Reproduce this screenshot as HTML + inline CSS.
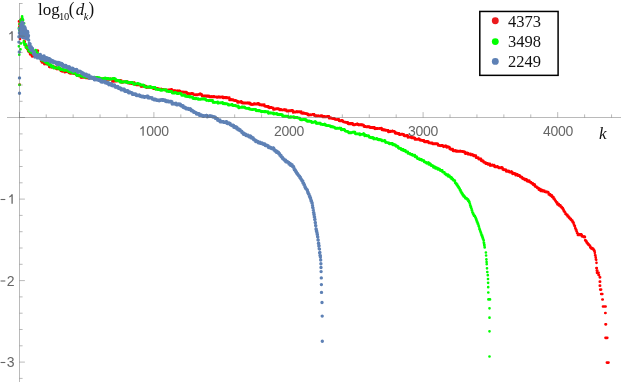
<!DOCTYPE html>
<html><head><meta charset="utf-8"><title>plot</title>
<style>
html,body{margin:0;padding:0;background:#fff;}
body{width:621px;height:382px;position:relative;overflow:hidden;font-family:"Liberation Sans",sans-serif;}
.t{position:absolute;white-space:nowrap;line-height:1;will-change:transform;}
.xl{font-size:14px;letter-spacing:-0.27px;color:#666;width:60px;text-align:center;top:123.9px;}
.yl{font-size:14px;color:#666;width:14.5px;text-align:right;left:0;}
.one{display:inline-block;vertical-align:baseline;position:relative;top:0.1px;margin-right:-0.27px}
.yl .one{margin-right:-0.5px}
.s{font-family:"Liberation Serif",serif;color:#111;}
</style></head><body>
<svg width="621" height="382" viewBox="0 0 621 382" style="position:absolute;left:0;top:0">
<g fill="none" stroke-linecap="round">
<path stroke="#ff0000" stroke-width="2.7" d="M19.4 24.3h0M19.6 28.7h0M19.7 27.3h0M19.8 27.7h0M20.0 26.3h0M20.1 27.0h0M20.2 26.5h0M20.4 27.7h0M20.5 24.2h0M20.6 22.8h0M20.8 25.4h0M20.9 24.2h0M21.0 22.8h0M21.2 20.9h0M21.3 24.7h0M21.5 18.8h0M21.6 22.8h0M21.7 22.7h0M21.9 20.9h0M22.0 21.2h0M22.1 23.8h0M22.3 21.5h0M22.4 24.6h0M22.5 22.9h0M22.7 27.1h0M22.8 29.5h0M23.1 28.9h0M23.3 32.9h0M23.6 37.5h0M23.9 37.6h0M24.1 40.9h0M24.4 41.2h0M24.7 41.6h0M25.0 43.8h0M25.2 44.6h0M25.5 45.4h0M25.8 46.3h0M26.0 47.4h0M26.3 47.2h0M26.6 46.0h0M26.8 46.7h0M27.1 46.9h0M27.4 49.2h0M27.6 49.1h0M27.9 49.0h0M28.2 51.3h0M28.5 51.2h0M28.7 51.6h0M29.0 51.8h0M29.3 52.2h0M29.5 52.0h0M29.8 52.1h0M30.1 54.3h0M30.3 54.2h0M30.6 54.1h0M30.9 53.2h0M31.1 54.2h0M31.4 54.5h0M31.7 54.0h0M32.0 56.3h0M32.2 55.4h0M32.5 56.5h0M32.8 55.9h0M33.0 55.9h0M33.3 55.7h0M33.6 55.8h0M33.8 55.9h0M34.1 53.7h0M34.4 53.4h0M34.6 53.8h0M34.9 54.5h0M35.2 54.0h0M35.5 54.3h0M35.7 53.9h0M36.0 52.6h0M36.3 52.6h0M36.5 52.2h0M36.8 51.4h0M37.1 51.3h0M37.3 51.3h0M37.6 50.6h0M37.9 50.8h0M38.1 54.8h0M38.4 54.8h0M38.7 54.0h0M39.0 54.4h0M39.2 54.4h0M39.5 56.1h0M39.8 55.9h0M40.0 56.9h0M40.3 56.5h0M40.6 58.5h0M40.8 58.0h0M41.1 61.0h0M41.4 60.8h0M41.6 61.2h0M41.9 62.3h0M42.2 61.3h0M42.5 61.8h0M42.7 62.0h0M43.0 61.9h0M43.3 62.5h0M43.5 61.9h0M43.8 62.5h0M44.1 62.2h0M44.3 64.1h0M44.6 63.1h0M44.9 63.2h0M45.1 63.3h0M45.4 64.0h0M45.7 63.0h0M46.0 63.3h0M46.2 63.8h0M46.5 64.1h0M46.8 63.7h0M47.0 64.0h0M47.3 64.3h0M47.6 64.4h0M47.8 64.4h0M48.1 64.5h0M48.4 64.0h0M48.6 64.0h0M48.9 63.8h0M49.2 66.8h0M49.5 66.3h0M49.7 66.3h0M50.0 67.1h0M50.3 66.7h0M50.5 66.7h0M50.8 66.7h0M51.1 66.6h0M51.3 66.6h0M51.6 67.3h0M51.9 66.9h0M52.1 66.8h0M52.4 66.7h0M52.7 67.0h0M53.0 66.6h0M53.2 66.5h0M53.5 66.8h0M53.8 67.2h0M54.0 67.8h0M54.3 67.3h0M54.6 67.8h0M54.8 67.2h0M55.1 67.2h0M55.4 67.5h0M55.6 67.6h0M55.9 67.9h0M56.2 67.7h0M56.4 68.8h0M56.7 68.2h0M57.0 69.1h0M57.3 68.5h0M57.5 69.0h0M57.8 68.2h0M58.1 69.0h0M58.3 68.4h0M58.6 69.0h0M58.9 69.0h0M59.1 68.9h0M59.4 68.5h0M59.7 68.3h0M59.9 68.5h0M60.2 69.2h0M60.5 68.5h0M60.8 70.8h0M61.0 70.8h0M61.3 70.9h0M61.6 70.5h0M61.8 70.5h0M62.1 70.5h0M62.4 71.4h0M62.6 70.8h0M62.9 71.1h0M63.2 71.0h0M63.4 70.7h0M63.7 70.5h0M64.0 70.4h0M64.3 71.1h0M64.5 70.4h0M64.8 72.2h0M65.1 71.6h0M65.3 71.9h0M65.6 71.3h0M65.9 71.9h0M66.1 71.4h0M66.4 71.5h0M66.7 71.6h0M66.9 71.2h0M67.2 71.4h0M67.5 71.8h0M67.8 71.4h0M68.0 71.5h0M68.3 71.8h0M68.6 71.3h0M68.8 71.3h0M69.1 72.9h0M69.4 73.1h0M69.6 73.1h0M69.9 73.3h0M70.2 73.1h0M70.4 73.4h0M70.7 72.8h0M71.0 73.3h0M71.3 73.4h0M71.5 72.9h0M71.8 72.7h0M72.1 73.0h0M72.3 72.7h0M72.6 73.0h0M72.9 73.2h0M73.1 72.7h0M73.4 73.4h0M73.7 73.7h0M73.9 73.5h0M74.2 73.5h0M74.5 73.7h0M74.8 73.4h0M75.0 73.4h0M75.3 73.7h0M75.6 73.8h0M75.8 74.3h0M76.1 74.0h0M76.4 73.7h0M76.6 73.9h0M76.9 74.3h0M77.2 75.3h0M77.4 75.6h0M77.7 75.7h0M78.0 75.7h0M78.3 75.2h0M78.5 75.9h0M78.8 75.6h0M79.1 75.4h0M79.3 75.4h0M79.6 76.0h0M79.9 75.5h0M80.1 75.4h0M80.4 75.5h0M80.7 76.0h0M80.9 77.4h0M81.2 77.6h0M81.5 77.1h0M81.8 77.3h0M82.0 77.2h0M82.3 77.1h0M82.6 77.4h0M82.8 77.1h0M83.1 76.9h0M83.4 77.4h0M83.6 77.0h0M83.9 76.7h0M84.2 76.5h0M84.4 76.9h0M84.7 76.7h0M85.0 76.3h0M85.3 76.6h0M85.5 76.8h0M85.8 77.9h0M86.1 77.7h0M86.3 77.8h0M86.6 77.9h0M86.9 77.9h0M87.1 77.6h0M87.4 78.0h0M87.7 78.1h0M87.9 78.0h0M88.2 78.1h0M88.5 77.8h0M88.8 78.2h0M89.0 77.8h0M89.3 77.8h0M89.6 78.1h0M89.8 78.3h0M90.1 77.7h0M90.4 77.7h0M90.6 77.5h0M90.9 77.8h0M91.2 77.6h0M91.4 77.7h0M91.7 78.1h0M92.0 78.0h0M92.3 78.2h0M92.5 77.9h0M92.8 78.1h0M93.1 77.6h0M93.3 78.2h0M93.6 77.8h0M93.9 77.9h0M94.1 78.0h0M94.4 78.3h0M94.7 78.0h0M94.9 78.3h0M95.2 78.1h0M95.5 77.9h0M95.8 78.3h0M96.0 77.9h0M96.3 78.4h0M96.6 78.1h0M96.8 77.9h0M97.1 78.5h0M97.4 78.1h0M97.6 79.2h0M97.9 79.2h0M98.2 79.4h0M98.4 79.0h0M98.7 79.2h0M99.0 79.1h0M99.3 79.5h0M99.5 79.0h0M99.8 79.4h0M100.1 79.1h0M100.3 79.3h0M100.6 79.3h0M100.9 79.4h0M101.1 79.0h0M101.4 79.0h0M101.7 78.9h0M101.9 79.4h0M102.2 78.9h0M102.5 78.8h0M102.8 79.1h0M103.0 79.1h0M103.3 79.3h0M103.6 79.1h0M103.8 79.2h0M104.1 79.1h0M104.4 79.4h0M104.6 79.3h0M104.9 79.3h0M105.2 79.6h0M105.4 79.5h0M105.7 79.6h0M106.0 79.6h0M106.3 79.2h0M106.5 79.6h0M106.8 79.3h0M107.1 79.0h0M107.3 79.5h0M107.6 79.0h0M107.9 78.9h0M108.1 79.1h0M108.4 79.0h0M108.7 79.4h0M108.9 79.3h0M109.2 79.1h0M109.5 79.1h0M109.8 79.3h0M110.0 79.3h0M110.3 79.2h0M110.6 79.1h0M110.8 78.9h0M111.1 79.0h0M111.4 79.3h0M111.6 79.3h0M111.9 79.4h0M112.2 79.5h0M112.4 81.3h0M112.7 80.9h0M113.0 80.8h0M113.3 81.3h0M113.5 81.2h0M113.8 81.0h0M114.1 81.3h0M114.3 81.0h0M114.6 81.0h0M114.9 81.1h0M115.1 81.2h0M115.4 81.2h0M115.7 80.9h0M115.9 81.2h0M116.2 81.2h0M116.5 81.0h0M116.8 81.1h0M117.0 81.2h0M117.3 80.7h0M117.6 80.9h0M117.8 81.0h0M118.1 81.0h0M118.4 80.9h0M118.6 80.6h0M118.9 81.0h0M119.2 80.9h0M119.4 80.6h0M119.7 80.7h0M120.0 81.0h0M120.2 80.5h0M120.5 80.7h0M120.8 81.0h0M121.1 80.9h0M121.3 80.5h0M121.6 82.4h0M121.9 82.2h0M122.1 82.4h0M122.4 82.4h0M122.7 82.0h0M122.9 82.1h0M123.2 82.1h0M123.5 82.1h0M123.7 81.9h0M124.0 81.9h0M124.3 82.0h0M124.6 82.0h0M124.8 81.8h0M125.1 82.1h0M125.4 82.2h0M125.6 82.0h0M125.9 81.9h0M126.2 82.1h0M126.4 81.9h0M126.7 81.8h0M127.0 82.0h0M127.2 81.8h0M127.5 82.2h0M127.8 81.9h0M128.1 82.8h0M128.3 83.2h0M128.6 83.1h0M128.9 83.2h0M129.1 83.2h0M129.4 83.2h0M129.7 83.3h0M129.9 83.5h0M130.2 83.2h0M130.5 83.5h0M130.7 83.3h0M131.0 83.3h0M131.3 83.6h0M131.6 83.4h0M131.8 83.6h0M132.1 83.6h0M132.4 83.4h0M132.6 83.1h0M132.9 83.0h0M133.2 83.2h0M133.4 83.3h0M133.7 83.0h0M134.0 82.9h0M134.2 82.8h0M134.5 82.9h0M134.8 84.5h0M135.1 84.2h0M135.3 84.3h0M135.6 84.3h0M135.9 84.6h0M136.1 84.8h0M136.4 84.3h0M136.7 84.4h0M136.9 84.9h0M137.2 85.0h0M137.5 84.6h0M137.7 84.8h0M138.0 84.9h0M138.3 84.8h0M138.6 84.9h0M138.8 84.9h0M139.1 84.8h0M139.4 84.7h0M139.6 84.7h0M139.9 84.7h0M140.2 84.6h0M140.4 84.9h0M140.7 84.9h0M141.0 86.4h0M141.2 86.6h0M141.5 86.5h0M141.8 86.3h0M142.1 86.3h0M142.3 86.2h0M142.6 86.5h0M142.9 86.3h0M143.1 86.1h0M143.4 86.1h0M143.7 86.4h0M143.9 86.2h0M144.2 86.4h0M144.5 86.2h0M144.7 86.5h0M145.0 86.5h0M145.3 86.1h0M145.6 86.4h0M145.8 86.2h0M146.1 86.5h0M146.4 87.6h0M146.6 87.6h0M146.9 87.3h0M147.2 87.2h0M147.4 87.5h0M147.7 87.5h0M148.0 87.3h0M148.2 87.3h0M148.5 87.5h0M148.8 87.2h0M149.1 87.5h0M149.3 87.3h0M149.6 87.3h0M149.9 87.4h0M150.1 87.4h0M150.4 87.5h0M150.7 87.2h0M150.9 87.5h0M151.2 87.2h0M151.5 87.3h0M151.7 87.4h0M152.0 87.4h0M152.3 87.4h0M152.6 87.5h0M152.8 88.3h0M153.1 88.4h0M153.4 88.6h0M153.6 88.4h0M153.9 88.3h0M154.2 88.4h0M154.4 88.7h0M154.7 88.7h0M155.0 88.7h0M155.2 88.8h0M155.5 88.7h0M155.8 88.5h0M156.1 88.5h0M156.3 88.7h0M156.6 88.4h0M156.9 88.6h0M157.1 88.3h0M157.4 88.3h0M157.7 88.5h0M157.9 89.2h0M158.2 89.6h0M158.5 89.5h0M158.7 89.3h0M159.0 89.1h0M159.3 89.1h0M159.6 89.3h0M159.8 89.3h0M160.1 89.2h0M160.4 89.4h0M160.6 89.4h0M160.9 89.5h0M161.2 89.2h0M161.4 89.2h0M161.7 89.4h0M162.0 89.5h0M162.2 89.4h0M162.5 89.6h0M162.8 89.4h0M163.1 89.4h0M163.3 89.5h0M163.6 89.7h0M163.9 89.7h0M164.1 89.5h0M164.4 89.5h0M164.7 89.8h0M164.9 89.8h0M165.2 90.2h0M165.5 89.9h0M165.7 90.1h0M166.0 90.2h0M166.3 90.0h0M166.6 89.9h0M166.8 90.4h0M167.1 90.3h0M167.4 90.0h0M167.6 90.1h0M167.9 90.2h0M168.2 90.0h0M168.4 89.9h0M168.7 90.2h0M169.0 90.2h0M169.2 90.0h0M169.5 89.8h0M169.8 90.0h0M170.1 89.8h0M170.3 90.2h0M170.6 89.7h0M170.9 89.8h0M171.1 90.0h0M171.4 89.7h0M171.7 89.6h0M171.9 89.6h0M172.2 90.8h0M172.5 90.9h0M172.7 91.1h0M173.0 90.7h0M173.3 90.7h0M173.6 91.0h0M173.8 90.9h0M174.1 90.8h0M174.4 90.8h0M174.6 90.8h0M174.9 91.2h0M175.2 90.8h0M175.4 90.9h0M175.7 91.1h0M176.0 91.2h0M176.2 91.3h0M176.5 91.1h0M176.8 91.3h0M177.1 91.2h0M177.3 91.1h0M177.6 91.2h0M177.9 91.3h0M178.1 91.3h0M178.4 91.0h0M178.7 91.1h0M178.9 91.4h0M179.2 91.0h0M179.5 91.3h0M179.7 91.1h0M180.0 91.0h0M180.3 92.1h0M180.6 92.2h0M180.8 92.4h0M181.1 92.0h0M181.4 92.3h0M181.6 92.0h0M181.9 91.9h0M182.2 92.2h0M182.4 92.0h0M182.7 92.0h0M183.0 92.1h0M183.2 92.3h0M183.5 92.3h0M183.8 92.2h0M184.1 92.0h0M184.3 92.4h0M184.6 92.3h0M184.9 92.5h0M185.1 92.5h0M185.4 92.2h0M185.7 92.5h0M185.9 92.5h0M186.2 92.2h0M186.5 92.3h0M186.7 92.3h0M187.0 93.6h0M187.3 93.6h0M187.6 93.5h0M187.8 93.5h0M188.1 93.9h0M188.4 93.6h0M188.6 93.7h0M188.9 93.9h0M189.2 93.8h0M189.4 93.5h0M189.7 93.8h0M190.0 93.8h0M190.2 93.8h0M190.5 93.7h0M190.8 93.7h0M191.0 93.7h0M191.3 93.4h0M191.6 93.6h0M191.9 93.5h0M192.1 93.7h0M192.4 93.3h0M192.7 93.5h0M192.9 93.5h0M193.2 93.7h0M193.5 94.4h0M193.7 94.6h0M194.0 94.7h0M194.3 94.8h0M194.5 94.5h0M194.8 94.9h0M195.1 94.8h0M195.4 94.9h0M195.6 94.9h0M195.9 94.6h0M196.2 95.0h0M196.4 94.9h0M196.7 94.8h0M197.0 94.7h0M197.2 94.9h0M197.5 94.9h0M197.8 94.8h0M198.0 94.5h0M198.3 94.5h0M198.6 94.4h0M198.9 94.3h0M199.1 94.4h0M199.4 94.2h0M199.7 94.5h0M199.9 94.2h0M200.2 94.1h0M200.5 94.1h0M200.7 94.5h0M201.0 94.2h0M201.3 94.4h0M201.5 94.4h0M201.8 94.6h0M202.1 95.9h0M202.4 95.6h0M202.6 95.8h0M202.9 95.9h0M203.2 95.8h0M203.4 96.0h0M203.7 96.0h0M204.0 95.8h0M204.2 96.1h0M204.5 96.0h0M204.8 95.8h0M205.0 96.1h0M205.3 96.2h0M205.6 96.1h0M205.9 96.2h0M206.1 96.2h0M206.4 96.4h0M206.7 96.3h0M206.9 96.1h0M207.2 96.2h0M207.5 96.2h0M207.7 96.4h0M208.0 96.3h0M208.3 96.0h0M208.5 96.3h0M208.8 95.9h0M209.1 96.1h0M209.4 96.0h0M209.6 96.9h0M209.9 96.7h0M210.2 96.6h0M210.4 96.7h0M210.7 96.8h0M211.0 96.8h0M211.2 96.6h0M211.5 96.5h0M211.8 96.8h0M212.0 96.8h0M212.3 96.5h0M212.6 96.9h0M212.9 96.9h0M213.1 96.7h0M213.4 96.7h0M213.7 96.8h0M213.9 97.0h0M214.2 96.7h0M214.5 96.7h0M214.7 96.8h0M215.0 97.0h0M215.3 96.8h0M215.5 97.0h0M215.8 97.0h0M216.1 97.1h0M216.4 96.9h0M216.6 97.3h0M216.9 97.3h0M217.2 97.2h0M217.4 97.3h0M217.7 97.0h0M218.0 97.3h0M218.2 97.1h0M218.5 97.2h0M218.8 97.2h0M219.0 97.0h0M219.3 97.3h0M219.6 97.0h0M219.9 96.9h0M220.1 97.1h0M220.4 97.3h0M220.7 97.2h0M220.9 97.2h0M221.2 97.0h0M221.5 97.2h0M221.7 97.0h0M222.0 96.8h0M222.3 97.0h0M222.5 97.0h0M222.8 96.8h0M223.1 97.9h0M223.4 97.7h0M223.6 97.7h0M223.9 97.7h0M224.2 97.8h0M224.4 97.7h0M224.7 97.5h0M225.0 97.5h0M225.2 97.6h0M225.5 97.8h0M225.8 97.8h0M226.0 97.6h0M226.3 97.6h0M226.6 97.8h0M226.9 97.6h0M227.1 97.8h0M227.4 98.0h0M227.7 97.7h0M227.9 97.9h0M228.2 97.9h0M228.5 97.9h0M228.7 97.9h0M229.0 97.9h0M229.3 97.7h0M229.5 100.0h0M229.8 100.0h0M230.1 99.6h0M230.4 100.0h0M230.6 99.8h0M230.9 99.6h0M231.2 99.6h0M231.4 99.9h0M231.7 99.9h0M232.0 99.6h0M232.2 99.8h0M232.5 99.8h0M232.8 100.0h0M233.0 99.7h0M233.3 99.9h0M233.6 100.5h0M233.9 100.4h0M234.1 100.4h0M234.4 100.6h0M234.7 100.7h0M234.9 100.6h0M235.2 100.6h0M235.5 100.6h0M235.7 100.6h0M236.0 100.7h0M236.3 100.8h0M236.5 101.0h0M236.8 100.9h0M237.1 101.1h0M237.4 101.1h0M237.6 102.5h0M237.9 102.3h0M238.2 102.5h0M238.4 102.3h0M238.7 102.1h0M239.0 102.2h0M239.2 102.0h0M239.5 102.0h0M239.8 101.9h0M240.0 102.1h0M240.3 102.2h0M240.6 101.9h0M240.9 101.9h0M241.1 101.9h0M241.4 101.8h0M241.7 101.9h0M241.9 102.9h0M242.2 102.8h0M242.5 103.1h0M242.7 103.0h0M243.0 102.7h0M243.3 103.1h0M243.5 103.1h0M243.8 102.9h0M244.1 103.0h0M244.4 103.2h0M244.6 102.9h0M244.9 103.0h0M245.2 102.9h0M245.4 103.0h0M245.7 103.1h0M246.0 103.1h0M246.2 103.2h0M246.5 102.9h0M246.8 103.0h0M247.0 103.2h0M247.3 103.2h0M247.6 103.2h0M247.9 103.2h0M248.1 103.1h0M248.4 103.4h0M248.7 103.3h0M248.9 103.2h0M249.2 103.1h0M249.5 103.1h0M249.7 103.4h0M250.0 103.4h0M250.3 103.0h0M250.5 104.5h0M250.8 104.5h0M251.1 104.5h0M251.4 104.4h0M251.6 104.6h0M251.9 104.4h0M252.2 104.4h0M252.4 104.6h0M252.7 104.4h0M253.0 104.3h0M253.2 104.2h0M253.5 104.2h0M253.8 104.2h0M254.0 104.3h0M254.3 104.0h0M254.6 104.0h0M254.8 104.0h0M255.1 104.0h0M255.4 104.2h0M255.7 104.1h0M255.9 104.0h0M256.2 104.0h0M256.5 104.2h0M256.7 103.9h0M257.0 104.1h0M257.3 103.8h0M257.5 103.9h0M257.8 103.9h0M258.1 104.2h0M258.3 103.9h0M258.6 103.9h0M258.9 103.8h0M259.2 103.9h0M259.4 104.8h0M259.7 104.8h0M260.0 104.9h0M260.2 105.0h0M260.5 104.8h0M260.8 105.0h0M261.0 104.7h0M261.3 105.1h0M261.6 104.9h0M261.8 104.8h0M262.1 105.1h0M262.4 105.1h0M262.7 104.9h0M262.9 104.8h0M263.2 105.1h0M263.5 105.0h0M263.7 105.0h0M264.0 105.1h0M264.3 104.7h0M264.5 106.1h0M264.8 106.2h0M265.1 106.1h0M265.3 106.5h0M265.6 106.5h0M265.9 106.3h0M266.2 106.3h0M266.4 106.4h0M266.7 106.6h0M267.0 106.6h0M267.2 106.8h0M267.5 106.6h0M267.8 106.8h0M268.0 106.6h0M268.3 106.6h0M268.6 106.5h0M268.8 107.5h0M269.1 107.8h0M269.4 107.8h0M269.7 107.7h0M269.9 107.4h0M270.2 107.4h0M270.5 107.4h0M270.7 107.5h0M271.0 107.7h0M271.3 107.4h0M271.5 107.6h0M271.8 107.7h0M272.1 107.5h0M272.3 107.7h0M272.6 107.9h0M272.9 107.8h0M273.2 107.8h0M273.4 109.4h0M273.7 109.3h0M274.0 109.1h0M274.2 109.2h0M274.5 109.4h0M274.8 109.3h0M275.0 109.3h0M275.3 109.1h0M275.6 108.9h0M275.8 108.9h0M276.1 108.9h0M276.4 109.0h0M276.7 108.7h0M276.9 109.0h0M277.2 109.0h0M277.5 108.8h0M277.7 108.6h0M278.0 108.9h0M278.3 108.7h0M278.5 108.8h0M278.8 108.8h0M279.1 108.8h0M279.3 109.6h0M279.6 109.9h0M279.9 109.9h0M280.2 109.9h0M280.4 109.8h0M280.7 109.7h0M281.0 109.7h0M281.2 109.7h0M281.5 110.0h0M281.8 110.0h0M282.0 110.0h0M282.3 110.0h0M282.6 110.1h0M282.8 110.0h0M283.1 109.8h0M283.4 110.0h0M283.7 109.8h0M283.9 110.0h0M284.2 109.8h0M284.5 110.1h0M284.7 109.9h0M285.0 109.9h0M285.3 110.2h0M285.5 109.8h0M285.8 110.2h0M286.1 110.1h0M286.3 109.9h0M286.6 111.1h0M286.9 111.0h0M287.2 111.2h0M287.4 111.0h0M287.7 111.0h0M288.0 111.2h0M288.2 110.8h0M288.5 111.1h0M288.8 110.8h0M289.0 110.8h0M289.3 110.7h0M289.6 111.0h0M289.8 110.8h0M290.1 110.9h0M290.4 110.6h0M290.7 110.8h0M290.9 110.8h0M291.2 110.5h0M291.5 110.6h0M291.7 110.7h0M292.0 110.5h0M292.3 110.7h0M292.5 110.5h0M292.8 110.5h0M293.1 112.4h0M293.3 112.3h0M293.6 112.3h0M293.9 112.1h0M294.2 112.1h0M294.4 112.2h0M294.7 112.2h0M295.0 112.0h0M295.2 112.2h0M295.5 111.9h0M295.8 112.2h0M296.0 111.9h0M296.3 111.7h0M296.6 112.0h0M296.8 111.7h0M297.1 112.0h0M297.4 111.7h0M297.7 112.1h0M297.9 111.9h0M298.2 112.0h0M298.5 111.7h0M298.7 111.9h0M299.0 111.8h0M299.3 111.8h0M299.5 112.1h0M299.8 111.7h0M300.1 111.9h0M300.3 111.8h0M300.6 112.1h0M300.9 112.1h0M301.2 111.7h0M301.4 113.2h0M301.7 113.2h0M302.0 113.3h0M302.2 113.3h0M302.5 113.1h0M302.8 113.4h0M303.0 113.1h0M303.3 113.1h0M303.6 113.4h0M303.8 113.1h0M304.1 113.2h0M304.4 113.3h0M304.7 113.3h0M304.9 113.3h0M305.2 113.7h0M305.5 113.5h0M305.7 113.7h0M306.0 113.5h0M306.3 113.8h0M306.5 113.5h0M306.8 113.9h0M307.1 113.8h0M307.3 113.9h0M307.6 113.8h0M307.9 115.0h0M308.2 115.0h0M308.4 115.1h0M308.7 114.9h0M309.0 114.8h0M309.2 115.1h0M309.5 115.0h0M309.8 115.0h0M310.0 115.0h0M310.3 114.7h0M310.6 114.8h0M310.8 114.9h0M311.1 114.9h0M311.4 114.9h0M311.7 114.5h0M311.9 114.7h0M312.2 114.6h0M312.5 114.5h0M312.7 114.3h0M313.0 114.3h0M313.3 114.4h0M313.5 114.4h0M313.8 114.3h0M314.1 114.4h0M314.3 115.5h0M314.6 115.7h0M314.9 115.6h0M315.2 115.5h0M315.4 115.8h0M315.7 115.6h0M316.0 115.9h0M316.2 116.0h0M316.5 115.7h0M316.8 115.9h0M317.0 116.1h0M317.3 115.8h0M317.6 115.9h0M317.8 115.8h0M318.1 115.7h0M318.4 115.8h0M318.7 115.8h0M318.9 115.8h0M319.2 116.0h0M319.5 116.0h0M319.7 116.1h0M320.0 116.0h0M320.3 115.8h0M320.5 116.1h0M320.8 115.9h0M321.1 115.9h0M321.3 116.0h0M321.6 115.9h0M321.9 115.7h0M322.1 115.8h0M322.4 116.7h0M322.7 117.0h0M323.0 116.7h0M323.2 117.0h0M323.5 116.5h0M323.8 116.5h0M324.0 116.8h0M324.3 116.6h0M324.6 116.7h0M324.8 116.6h0M325.1 116.9h0M325.4 116.8h0M325.6 116.8h0M325.9 116.9h0M326.2 116.9h0M326.5 116.8h0M326.7 116.8h0M327.0 116.5h0M327.3 116.5h0M327.5 116.6h0M327.8 116.8h0M328.1 116.5h0M328.3 116.6h0M328.6 116.3h0M328.9 116.4h0M329.1 118.2h0M329.4 118.1h0M329.7 118.1h0M330.0 117.8h0M330.2 117.9h0M330.5 117.9h0M330.8 118.2h0M331.0 117.9h0M331.3 118.3h0M331.6 118.1h0M331.8 118.4h0M332.1 118.3h0M332.4 118.3h0M332.6 118.6h0M332.9 118.4h0M333.2 118.6h0M333.5 118.3h0M333.7 118.7h0M334.0 118.8h0M334.3 118.4h0M334.5 118.7h0M334.8 119.3h0M335.1 119.2h0M335.3 119.3h0M335.6 119.4h0M335.9 119.6h0M336.1 119.6h0M336.4 119.6h0M336.7 119.5h0M337.0 119.5h0M337.2 119.3h0M337.5 119.6h0M337.8 119.5h0M338.0 119.5h0M338.3 119.7h0M338.6 119.4h0M338.8 119.4h0M339.1 120.8h0M339.4 120.8h0M339.6 121.0h0M339.9 121.0h0M340.2 120.7h0M340.5 120.8h0M340.7 120.8h0M341.0 120.8h0M341.3 120.7h0M341.5 120.8h0M341.8 120.6h0M342.1 120.6h0M342.3 120.8h0M342.6 120.7h0M342.9 121.0h0M343.1 121.7h0M343.4 122.0h0M343.7 121.8h0M344.0 121.8h0M344.2 122.0h0M344.5 122.0h0M344.8 122.1h0M345.0 122.3h0M345.3 122.1h0M345.6 122.4h0M345.8 122.5h0M346.1 122.3h0M346.4 122.4h0M346.6 122.6h0M346.9 122.5h0M347.2 122.3h0M347.5 122.3h0M347.7 122.3h0M348.0 123.7h0M348.3 123.6h0M348.5 123.9h0M348.8 123.8h0M349.1 123.7h0M349.3 123.8h0M349.6 124.0h0M349.9 123.7h0M350.1 123.6h0M350.4 123.6h0M350.7 123.6h0M351.0 123.9h0M351.2 123.8h0M351.5 123.6h0M351.8 123.5h0M352.0 123.4h0M352.3 123.4h0M352.6 123.8h0M352.8 123.6h0M353.1 124.8h0M353.4 125.0h0M353.6 124.7h0M353.9 124.9h0M354.2 124.8h0M354.5 124.7h0M354.7 124.9h0M355.0 124.8h0M355.3 124.7h0M355.5 124.5h0M355.8 124.6h0M356.1 124.5h0M356.3 124.5h0M356.6 124.2h0M356.9 124.5h0M357.1 124.0h0M357.4 124.1h0M357.7 124.1h0M358.0 124.8h0M358.2 124.8h0M358.5 125.0h0M358.8 125.1h0M359.0 124.8h0M359.3 124.8h0M359.6 125.0h0M359.8 124.8h0M360.1 124.8h0M360.4 125.0h0M360.6 124.8h0M360.9 124.7h0M361.2 124.7h0M361.5 124.9h0M361.7 125.1h0M362.0 125.1h0M362.3 124.7h0M362.5 124.9h0M362.8 124.9h0M363.1 124.8h0M363.3 125.0h0M363.6 125.0h0M363.9 126.6h0M364.1 126.4h0M364.4 126.7h0M364.7 126.7h0M365.0 126.6h0M365.2 126.5h0M365.5 126.6h0M365.8 126.5h0M366.0 126.8h0M366.3 126.8h0M366.6 126.8h0M366.8 127.0h0M367.1 126.6h0M367.4 126.9h0M367.6 127.0h0M367.9 126.7h0M368.2 126.8h0M368.5 126.6h0M368.7 126.9h0M369.0 126.9h0M369.3 126.7h0M369.5 126.8h0M369.8 127.6h0M370.1 127.7h0M370.3 127.5h0M370.6 127.7h0M370.9 127.5h0M371.1 127.3h0M371.4 127.3h0M371.7 127.6h0M372.0 127.7h0M372.2 127.6h0M372.5 127.4h0M372.8 127.8h0M373.0 127.8h0M373.3 127.5h0M373.6 127.7h0M373.8 127.8h0M374.1 127.5h0M374.4 127.5h0M374.6 127.7h0M374.9 128.8h0M375.2 128.8h0M375.5 128.5h0M375.7 128.7h0M376.0 128.7h0M376.3 128.7h0M376.5 128.6h0M376.8 128.7h0M377.1 128.6h0M377.3 128.7h0M377.6 128.6h0M377.9 128.4h0M378.1 128.6h0M378.4 128.5h0M378.7 128.5h0M379.0 128.5h0M379.2 128.6h0M379.5 128.6h0M379.8 128.4h0M380.0 128.4h0M380.3 128.5h0M380.6 128.4h0M380.8 128.4h0M381.1 128.5h0M381.4 128.2h0M381.6 128.3h0M381.9 129.8h0M382.2 130.0h0M382.5 130.0h0M382.7 130.0h0M383.0 129.9h0M383.3 129.8h0M383.5 130.1h0M383.8 129.9h0M384.1 129.9h0M384.3 129.9h0M384.6 130.0h0M384.9 130.2h0M385.1 130.3h0M385.4 130.2h0M385.7 130.3h0M386.0 130.1h0M386.2 130.3h0M386.5 130.3h0M386.8 130.3h0M387.0 130.4h0M387.3 130.6h0M387.6 130.6h0M387.8 130.3h0M388.1 130.3h0M388.4 132.0h0M388.6 131.9h0M388.9 131.9h0M389.2 131.8h0M389.4 131.8h0M389.7 131.5h0M390.0 131.4h0M390.3 131.4h0M390.5 131.2h0M390.8 131.6h0M391.1 131.3h0M391.3 131.4h0M391.6 131.4h0M391.9 131.3h0M392.1 131.1h0M392.4 131.1h0M392.7 131.0h0M392.9 131.4h0M393.2 131.4h0M393.5 131.3h0M393.8 131.3h0M394.0 131.3h0M394.3 131.5h0M394.6 131.6h0M394.8 131.8h0M395.1 133.2h0M395.4 133.3h0M395.6 133.1h0M395.9 133.2h0M396.2 133.2h0M396.4 133.5h0M396.7 133.2h0M397.0 133.2h0M397.3 133.3h0M397.5 133.6h0M397.8 133.6h0M398.1 133.4h0M398.3 133.7h0M398.6 133.7h0M398.9 133.5h0M399.1 133.4h0M399.4 134.7h0M399.7 134.5h0M399.9 134.4h0M400.2 134.7h0M400.5 134.5h0M400.8 134.4h0M401.0 134.5h0M401.3 134.3h0M401.6 134.2h0M401.8 134.3h0M402.1 134.3h0M402.4 134.1h0M402.6 134.3h0M402.9 134.5h0M403.2 134.3h0M403.4 134.4h0M403.7 134.4h0M404.0 135.7h0M404.3 135.6h0M404.5 135.9h0M404.8 135.9h0M405.1 135.8h0M405.3 135.7h0M405.6 136.0h0M405.9 136.0h0M406.1 135.7h0M406.4 135.8h0M406.7 135.8h0M406.9 135.6h0M407.2 135.5h0M407.5 135.6h0M407.8 135.7h0M408.0 137.4h0M408.3 137.3h0M408.6 137.0h0M408.8 137.0h0M409.1 137.0h0M409.4 137.0h0M409.6 137.0h0M409.9 137.2h0M410.2 136.8h0M410.4 137.1h0M410.7 136.8h0M411.0 137.0h0M411.3 136.7h0M411.5 137.9h0M411.8 137.8h0M412.1 137.6h0M412.3 137.9h0M412.6 138.0h0M412.9 137.7h0M413.1 138.0h0M413.4 137.8h0M413.7 138.1h0M413.9 137.7h0M414.2 137.9h0M414.5 137.9h0M414.8 138.1h0M415.0 139.4h0M415.3 139.5h0M415.6 139.4h0M415.8 139.3h0M416.1 139.5h0M416.4 139.2h0M416.6 139.3h0M416.9 139.5h0M417.2 139.3h0M417.4 139.5h0M417.7 139.1h0M418.0 139.2h0M418.3 139.0h0M418.5 138.9h0M418.8 138.9h0M419.1 138.9h0M419.3 139.0h0M419.6 140.1h0M419.9 140.2h0M420.1 140.1h0M420.4 140.3h0M420.7 140.2h0M420.9 140.5h0M421.2 140.1h0M421.5 140.3h0M421.8 140.3h0M422.0 140.3h0M422.3 140.6h0M422.6 140.3h0M422.8 140.6h0M423.1 140.4h0M423.4 140.3h0M423.6 140.5h0M423.9 140.4h0M424.2 141.7h0M424.4 141.6h0M424.7 142.0h0M425.0 141.7h0M425.3 141.6h0M425.5 141.8h0M425.8 141.8h0M426.1 141.7h0M426.3 141.7h0M426.6 141.9h0M426.9 141.7h0M427.1 141.7h0M427.4 142.0h0M427.7 141.7h0M427.9 141.7h0M428.2 141.7h0M428.5 141.9h0M428.8 142.9h0M429.0 142.8h0M429.3 142.8h0M429.6 142.8h0M429.8 143.0h0M430.1 142.9h0M430.4 143.1h0M430.6 143.0h0M430.9 143.1h0M431.2 142.9h0M431.4 143.0h0M431.7 143.3h0M432.0 143.2h0M432.3 143.1h0M432.5 143.0h0M432.8 144.0h0M433.1 143.9h0M433.3 143.8h0M433.6 144.0h0M433.9 144.0h0M434.1 143.8h0M434.4 143.9h0M434.7 143.7h0M434.9 143.9h0M435.2 143.7h0M435.5 143.8h0M435.8 143.8h0M436.0 143.9h0M436.3 143.7h0M436.6 143.8h0M436.8 143.9h0M437.1 143.7h0M437.4 143.8h0M437.6 144.0h0M437.9 143.9h0M438.2 145.4h0M438.4 145.5h0M438.7 145.4h0M439.0 145.3h0M439.3 145.4h0M439.5 145.6h0M439.8 145.5h0M440.1 145.6h0M440.3 145.5h0M440.6 145.5h0M440.9 145.8h0M441.1 145.7h0M441.4 145.6h0M441.7 145.4h0M441.9 145.6h0M442.2 145.4h0M442.5 145.7h0M442.8 145.7h0M443.0 145.6h0M443.3 146.6h0M443.6 146.8h0M443.8 146.4h0M444.1 146.6h0M444.4 146.4h0M444.6 146.1h0M444.9 146.5h0M445.2 146.2h0M445.4 146.3h0M445.7 146.2h0M446.0 146.0h0M446.3 146.1h0M446.5 147.1h0M446.8 147.4h0M447.1 147.1h0M447.3 146.9h0M447.6 147.0h0M447.9 146.9h0M448.1 146.9h0M448.4 147.2h0M448.7 147.0h0M448.9 147.1h0M449.2 147.2h0M449.5 147.3h0M449.8 149.0h0M450.0 149.1h0M450.3 149.2h0M450.6 149.3h0M450.8 149.1h0M451.1 149.3h0M451.4 149.1h0M451.6 149.4h0M451.9 149.4h0M452.2 149.4h0M452.4 149.3h0M452.7 149.2h0M453.0 150.8h0M453.3 150.6h0M453.5 150.7h0M453.8 150.8h0M454.1 150.5h0M454.3 150.8h0M454.6 150.7h0M454.9 150.8h0M455.1 150.6h0M455.4 150.4h0M455.7 150.8h0M455.9 150.5h0M456.2 151.5h0M456.5 151.5h0M456.8 151.3h0M457.0 151.5h0M457.3 151.3h0M457.6 151.2h0M457.8 151.2h0M458.1 151.5h0M458.4 151.3h0M458.6 151.3h0M458.9 151.3h0M459.2 151.1h0M459.4 151.4h0M459.7 151.4h0M460.0 151.5h0M460.2 151.2h0M460.5 151.2h0M460.8 151.3h0M461.1 151.5h0M461.3 151.5h0M461.6 151.4h0M461.9 151.5h0M462.1 151.4h0M462.4 151.7h0M462.7 151.6h0M462.9 151.6h0M463.2 151.8h0M463.5 151.5h0M463.7 151.8h0M464.0 151.7h0M464.3 152.2h0M464.6 151.9h0M464.8 151.9h0M465.1 152.1h0M465.4 153.7h0M465.6 153.6h0M465.9 153.7h0M466.2 153.4h0M466.4 153.4h0M466.7 153.2h0M467.0 153.4h0M467.2 153.1h0M467.5 153.3h0M467.8 153.1h0M468.1 154.3h0M468.3 154.2h0M468.6 154.0h0M468.9 154.2h0M469.1 153.9h0M469.4 154.1h0M469.7 154.1h0M469.9 154.0h0M470.2 154.0h0M470.5 153.8h0M470.7 154.9h0M471.0 155.0h0M471.3 154.7h0M471.6 154.6h0M471.8 154.8h0M472.1 154.8h0M472.4 154.7h0M472.6 154.7h0M472.9 155.0h0M473.2 154.8h0M473.4 155.8h0M473.7 155.8h0M474.0 155.9h0M474.2 155.8h0M474.5 155.9h0M474.8 155.9h0M475.1 155.8h0M475.3 155.9h0M475.6 156.0h0M475.9 155.7h0M476.1 157.7h0M476.4 157.4h0M476.7 157.3h0M476.9 157.7h0M477.2 157.7h0M477.5 157.7h0M477.7 157.6h0M478.0 157.9h0M478.3 157.7h0M478.6 159.1h0M478.8 158.9h0M479.1 159.1h0M479.4 159.1h0M479.6 159.0h0M479.9 159.0h0M480.2 158.9h0M480.4 159.1h0M480.7 159.2h0M481.0 158.9h0M481.2 160.7h0M481.5 160.8h0M481.8 160.6h0M482.1 161.0h0M482.3 161.1h0M482.6 160.8h0M482.9 160.9h0M483.1 160.9h0M483.4 161.1h0M483.7 162.2h0M483.9 162.4h0M484.2 162.4h0M484.5 162.4h0M484.7 162.5h0M485.0 162.5h0M485.3 162.6h0M485.6 162.6h0M485.8 163.7h0M486.1 163.7h0M486.4 163.5h0M486.6 163.6h0M486.9 163.5h0M487.2 163.7h0M487.4 163.6h0M487.7 163.7h0M488.0 164.4h0M488.2 164.2h0M488.5 164.5h0M488.8 164.2h0M489.1 164.4h0M489.3 164.1h0M489.6 164.0h0M489.9 163.8h0M490.1 165.6h0M490.4 165.4h0M490.7 165.3h0M490.9 165.3h0M491.2 165.4h0M491.5 165.4h0M491.7 165.3h0M492.0 165.1h0M492.3 165.2h0M492.6 165.5h0M492.8 165.2h0M493.1 165.4h0M493.4 165.3h0M493.6 165.3h0M493.9 165.3h0M494.2 165.2h0M494.4 166.6h0M494.7 166.8h0M495.0 166.4h0M495.2 166.6h0M495.5 166.8h0M495.8 166.9h0M496.1 166.5h0M496.3 166.8h0M496.6 166.8h0M496.9 166.9h0M497.1 166.7h0M497.4 166.6h0M497.7 166.7h0M497.9 166.9h0M498.2 167.0h0M498.5 167.6h0M498.7 167.9h0M499.0 167.9h0M499.3 167.9h0M499.6 167.6h0M499.8 167.8h0M500.1 167.8h0M500.4 167.9h0M500.6 167.8h0M500.9 167.7h0M501.2 167.9h0M501.4 167.7h0M501.7 167.9h0M502.0 167.7h0M502.2 167.7h0M502.5 167.8h0M502.8 169.4h0M503.1 169.7h0M503.3 169.4h0M503.6 169.8h0M503.9 169.4h0M504.1 169.7h0M504.4 169.6h0M504.7 169.6h0M504.9 169.7h0M505.2 169.8h0M505.5 169.8h0M505.7 169.7h0M506.0 171.2h0M506.3 171.1h0M506.6 171.4h0M506.8 171.2h0M507.1 171.2h0M507.4 171.1h0M507.6 171.4h0M507.9 171.1h0M508.2 171.3h0M508.4 171.3h0M508.7 171.1h0M509.0 171.2h0M509.2 172.1h0M509.5 172.0h0M509.8 171.9h0M510.1 172.1h0M510.3 172.3h0M510.6 172.0h0M510.9 172.1h0M511.1 172.2h0M511.4 172.0h0M511.7 172.0h0M511.9 172.2h0M512.2 172.1h0M512.5 173.8h0M512.7 173.8h0M513.0 173.6h0M513.3 173.7h0M513.6 173.7h0M513.8 173.5h0M514.1 173.7h0M514.4 173.9h0M514.6 173.7h0M514.9 173.8h0M515.2 173.8h0M515.4 173.5h0M515.7 175.2h0M516.0 174.8h0M516.2 174.8h0M516.5 174.9h0M516.8 174.6h0M517.1 174.6h0M517.3 174.5h0M517.6 174.6h0M517.9 175.7h0M518.1 175.7h0M518.4 175.7h0M518.7 175.6h0M518.9 175.6h0M519.2 175.6h0M519.5 175.7h0M519.7 175.6h0M520.0 175.9h0M520.3 176.9h0M520.6 176.9h0M520.8 176.9h0M521.1 177.3h0M521.4 177.0h0M521.6 177.4h0M521.9 177.2h0M522.2 177.6h0M522.4 178.5h0M522.7 178.6h0M523.0 178.8h0M523.2 178.5h0M523.5 178.6h0M523.8 178.9h0M524.0 178.9h0M524.3 179.0h0M524.6 178.8h0M524.9 180.0h0M525.1 179.8h0M525.4 179.9h0M525.7 179.8h0M525.9 179.9h0M526.2 179.7h0M526.5 179.6h0M526.7 179.7h0M527.0 181.0h0M527.3 181.3h0M527.5 181.0h0M527.8 180.8h0M528.1 180.7h0M528.4 180.8h0M528.6 180.8h0M528.9 180.8h0M529.2 180.6h0M529.4 181.9h0M529.7 182.1h0M530.0 181.8h0M530.2 182.1h0M530.5 182.1h0M530.8 182.2h0M531.0 182.2h0M531.3 183.1h0M531.6 183.3h0M531.9 183.3h0M532.1 183.1h0M532.4 183.5h0M532.7 183.3h0M532.9 183.4h0M533.2 184.7h0M533.5 184.5h0M533.7 184.9h0M534.0 184.6h0M534.3 184.7h0M534.5 184.9h0M534.8 184.7h0M535.1 186.4h0M535.4 186.6h0M535.6 186.4h0M535.9 186.7h0M536.2 186.5h0M536.4 186.8h0M536.7 186.9h0M537.0 187.8h0M537.2 187.6h0M537.5 187.7h0M537.8 188.1h0M538.0 187.9h0M538.3 188.0h0M538.6 188.0h0M538.9 189.7h0M539.1 189.7h0M539.4 189.7h0M539.7 189.5h0M539.9 189.6h0M540.2 189.5h0M540.5 189.2h0M540.7 190.9h0M541.0 190.8h0M541.3 190.7h0M541.5 190.7h0M541.8 190.4h0M542.1 190.4h0M542.4 190.1h0M542.6 191.2h0M542.9 191.1h0M543.2 191.2h0M543.4 191.1h0M543.7 191.1h0M544.0 190.9h0M544.2 191.1h0M544.5 190.9h0M544.8 191.8h0M545.0 191.8h0M545.3 192.0h0M545.6 192.0h0M545.9 192.1h0M546.1 192.0h0M546.4 191.8h0M546.7 191.9h0M546.9 192.1h0M547.2 192.0h0M547.5 192.1h0M547.7 192.1h0M548.0 192.2h0M548.3 192.7h0M548.5 192.5h0M548.8 194.5h0M549.1 194.3h0M549.4 194.6h0M549.6 194.4h0M549.9 194.4h0M550.2 194.4h0M550.4 195.5h0M550.7 195.7h0M551.0 195.6h0M551.2 195.3h0M551.5 195.6h0M551.8 195.3h0M552.0 196.8h0M552.3 197.0h0M552.6 196.5h0M552.9 197.4h0M553.1 197.2h0M553.4 197.1h0M553.7 198.7h0M553.9 198.6h0M554.2 198.6h0M554.5 199.5h0M554.7 199.6h0M555.0 199.9h0M555.3 200.8h0M555.5 201.1h0M555.8 201.2h0M556.1 202.1h0M556.4 202.5h0M556.6 202.1h0M556.9 202.5h0M557.2 202.6h0M557.4 204.3h0M557.7 204.2h0M558.0 204.4h0M558.2 204.1h0M558.5 204.3h0M558.8 204.2h0M559.0 205.5h0M559.3 205.4h0M559.6 205.6h0M559.9 205.5h0M560.1 205.5h0M560.4 205.4h0M560.7 206.7h0M560.9 206.7h0M561.2 206.6h0M561.5 207.4h0M561.7 207.2h0M562.0 207.4h0M562.3 208.3h0M562.5 208.2h0M562.8 208.2h0M563.1 209.6h0M563.4 209.7h0M563.6 209.6h0M563.9 211.2h0M564.2 211.4h0M564.4 211.4h0M564.7 212.2h0M565.0 212.3h0M565.2 212.5h0M565.5 213.9h0M565.8 213.9h0M566.0 214.1h0M566.3 214.2h0M566.6 215.0h0M566.9 215.2h0M567.1 215.3h0M567.4 214.9h0M567.7 216.4h0M567.9 216.5h0M568.2 216.4h0M568.5 216.7h0M568.7 216.7h0M569.0 217.7h0M569.3 217.8h0M569.5 217.7h0M569.8 218.4h0M570.1 218.6h0M570.4 219.2h0M570.6 218.9h0M570.9 218.9h0M571.2 220.0h0M571.4 220.0h0M571.7 220.6h0M572.0 220.7h0M572.2 220.4h0M572.5 221.8h0M572.8 221.7h0M573.0 222.6h0M573.3 222.5h0M573.6 222.6h0M573.9 224.5h0M574.1 224.6h0M574.4 225.8h0M574.7 226.0h0M574.9 226.1h0M575.2 228.0h0M575.5 228.4h0M575.7 229.4h0M576.0 229.7h0M576.3 229.8h0M576.5 231.2h0M576.8 231.5h0M577.1 232.9h0M577.4 233.3h0M577.6 233.3h0M577.9 235.0h0M578.2 235.0h0M578.4 234.7h0M578.7 234.9h0M579.0 234.6h0M579.2 234.8h0M579.5 234.7h0M579.8 234.9h0M580.0 234.6h0M580.3 234.8h0M580.6 234.7h0M580.9 234.7h0M581.1 234.6h0M581.4 234.5h0M581.7 234.8h0M581.9 236.3h0M582.2 236.3h0M582.5 236.0h0M582.7 236.3h0M583.0 236.4h0M583.3 236.4h0M583.5 236.6h0M583.8 236.9h0M584.1 237.2h0M584.4 237.0h0M584.6 236.8h0M584.9 236.9h0M585.2 240.3h0M585.4 240.2h0M585.7 240.8h0M586.0 240.8h0M586.2 241.6h0M586.5 241.4h0M586.8 242.7h0M587.0 242.6h0M587.3 243.3h0M587.6 243.3h0M587.9 243.4h0M588.1 244.4h0M588.4 244.6h0M588.7 244.4h0M588.9 244.6h0M589.2 245.3h0M589.5 245.5h0M589.7 245.5h0M590.0 245.6h0M590.3 247.4h0M590.5 247.3h0M590.8 247.3h0M591.1 247.3h0M591.3 248.4h0M591.6 248.4h0M591.9 248.5h0M592.2 248.0h0M592.4 248.9h0M592.7 249.1h0M593.0 248.6h0M593.2 248.8h0M593.5 249.7h0M593.8 249.8h0M594.0 249.8h0M594.3 251.1h0M594.6 251.2h0M594.8 252.8h0M595.1 255.3h0M595.4 255.3h0M595.7 257.4h0M595.9 259.5h0M596.2 259.8h0M596.5 262.8h0M19.0 21.4h0M19.3 30.0h0M19.4 26.5h0M19.6 84.5h0M20.0 39.0h0M596.4 268.0h0.4M596.8 270.5h0.5M597.0 272.8h1.6M598.6 275.0h0.4M599.8 277.3h0.3M599.8 281.7h0.3M599.8 285.7h0.3M600.2 289.6h0.9M601.2 294.0h1.1M602.4 299.5h0.3M603.0 306.5h2.6M605.3 313.0h0.2M605.5 324.3h0.5M605.5 337.8h1.8M606.9 362.6h1.6"/>
<path stroke="#00ff00" stroke-width="2.7" d="M19.4 30.4h0M19.6 30.3h0M19.7 30.3h0M19.8 29.8h0M20.0 31.7h0M20.1 32.2h0M20.2 30.5h0M20.4 28.4h0M20.5 30.6h0M20.6 28.5h0M20.8 25.3h0M20.9 28.6h0M21.0 22.1h0M21.2 24.7h0M21.3 23.5h0M21.5 22.1h0M21.6 22.2h0M21.7 23.0h0M21.9 22.8h0M22.0 20.1h0M22.1 16.4h0M22.3 18.4h0M22.4 22.9h0M22.5 19.6h0M22.7 19.1h0M22.8 19.7h0M23.1 20.0h0M23.3 36.5h0M23.6 42.5h0M23.9 41.4h0M24.1 43.3h0M24.4 44.8h0M24.7 43.9h0M25.0 44.9h0M25.2 45.0h0M25.5 44.8h0M25.8 44.3h0M26.0 47.6h0M26.3 47.1h0M26.6 47.8h0M26.8 47.4h0M27.1 47.1h0M27.4 47.5h0M27.6 48.2h0M27.9 47.7h0M28.2 48.2h0M28.5 50.8h0M28.7 51.0h0M29.0 51.3h0M29.3 50.8h0M29.5 51.4h0M29.8 50.4h0M30.1 51.4h0M30.3 51.8h0M30.6 51.0h0M30.9 52.4h0M31.1 52.4h0M31.4 52.5h0M31.7 52.7h0M32.0 52.7h0M32.2 52.3h0M32.5 53.3h0M32.8 53.5h0M33.0 52.3h0M33.3 52.9h0M33.6 52.6h0M33.8 52.6h0M34.1 51.7h0M34.4 51.6h0M34.6 52.0h0M34.9 52.2h0M35.2 50.6h0M35.5 50.5h0M35.7 50.1h0M36.0 51.1h0M36.3 50.9h0M36.5 52.2h0M36.8 53.1h0M37.1 52.6h0M37.3 53.0h0M37.6 52.9h0M37.9 53.4h0M38.1 55.0h0M38.4 55.0h0M38.7 54.8h0M39.0 57.1h0M39.2 56.4h0M39.5 56.3h0M39.8 57.0h0M40.0 57.7h0M40.3 57.2h0M40.6 57.4h0M40.8 58.7h0M41.1 59.7h0M41.4 59.5h0M41.6 60.0h0M41.9 60.4h0M42.2 59.9h0M42.5 59.7h0M42.7 59.6h0M43.0 60.1h0M43.3 60.4h0M43.5 59.4h0M43.8 59.8h0M44.1 60.2h0M44.3 61.2h0M44.6 61.9h0M44.9 61.4h0M45.1 61.7h0M45.4 62.2h0M45.7 61.1h0M46.0 61.9h0M46.2 61.8h0M46.5 63.3h0M46.8 62.8h0M47.0 63.5h0M47.3 63.5h0M47.6 62.6h0M47.8 62.9h0M48.1 62.8h0M48.4 63.5h0M48.6 63.7h0M48.9 64.9h0M49.2 65.0h0M49.5 64.7h0M49.7 65.1h0M50.0 64.5h0M50.3 64.3h0M50.5 65.0h0M50.8 64.6h0M51.1 66.0h0M51.3 66.8h0M51.6 66.1h0M51.9 66.2h0M52.1 66.0h0M52.4 66.5h0M52.7 66.0h0M53.0 66.2h0M53.2 66.4h0M53.5 68.1h0M53.8 67.1h0M54.0 68.0h0M54.3 67.8h0M54.6 67.3h0M54.8 68.0h0M55.1 67.8h0M55.4 67.6h0M55.6 67.9h0M55.9 68.2h0M56.2 68.1h0M56.4 67.8h0M56.7 67.9h0M57.0 68.0h0M57.3 68.1h0M57.5 68.2h0M57.8 68.4h0M58.1 67.7h0M58.3 67.7h0M58.6 68.4h0M58.9 68.1h0M59.1 67.7h0M59.4 67.7h0M59.7 68.1h0M59.9 69.4h0M60.2 69.3h0M60.5 69.8h0M60.8 68.9h0M61.0 69.5h0M61.3 69.5h0M61.6 69.4h0M61.8 69.4h0M62.1 68.9h0M62.4 69.8h0M62.6 68.9h0M62.9 69.2h0M63.2 69.2h0M63.4 69.6h0M63.7 69.5h0M64.0 70.5h0M64.3 70.3h0M64.5 70.6h0M64.8 70.0h0M65.1 70.1h0M65.3 70.2h0M65.6 70.0h0M65.9 69.9h0M66.1 70.3h0M66.4 70.0h0M66.7 70.5h0M66.9 70.3h0M67.2 69.7h0M67.5 69.8h0M67.8 69.9h0M68.0 70.0h0M68.3 71.4h0M68.6 71.8h0M68.8 71.5h0M69.1 71.6h0M69.4 71.6h0M69.6 72.1h0M69.9 71.7h0M70.2 71.3h0M70.4 72.1h0M70.7 72.1h0M71.0 71.3h0M71.3 72.0h0M71.5 71.7h0M71.8 72.0h0M72.1 71.7h0M72.3 71.7h0M72.6 73.3h0M72.9 72.7h0M73.1 72.8h0M73.4 72.8h0M73.7 72.8h0M73.9 73.0h0M74.2 72.9h0M74.5 73.0h0M74.8 73.2h0M75.0 73.1h0M75.3 73.0h0M75.6 73.8h0M75.8 73.8h0M76.1 73.8h0M76.4 75.0h0M76.6 75.4h0M76.9 75.7h0M77.2 75.3h0M77.4 75.3h0M77.7 75.6h0M78.0 75.6h0M78.3 75.4h0M78.5 75.1h0M78.8 75.5h0M79.1 75.5h0M79.3 75.2h0M79.6 75.3h0M79.9 75.5h0M80.1 75.8h0M80.4 75.9h0M80.7 76.1h0M80.9 75.9h0M81.2 76.3h0M81.5 75.9h0M81.8 76.1h0M82.0 76.3h0M82.3 75.7h0M82.6 76.0h0M82.8 75.9h0M83.1 76.1h0M83.4 76.4h0M83.6 75.9h0M83.9 76.3h0M84.2 75.7h0M84.4 76.2h0M84.7 77.3h0M85.0 77.2h0M85.3 77.1h0M85.5 77.5h0M85.8 77.0h0M86.1 76.9h0M86.3 76.8h0M86.6 77.2h0M86.9 77.2h0M87.1 77.0h0M87.4 77.2h0M87.7 77.1h0M87.9 77.3h0M88.2 77.0h0M88.5 77.4h0M88.8 77.3h0M89.0 77.7h0M89.3 77.5h0M89.6 77.8h0M89.8 77.5h0M90.1 77.7h0M90.4 77.4h0M90.6 77.4h0M90.9 77.7h0M91.2 77.5h0M91.4 77.9h0M91.7 77.4h0M92.0 77.9h0M92.3 78.0h0M92.5 78.0h0M92.8 77.5h0M93.1 77.7h0M93.3 77.7h0M93.6 77.7h0M93.9 77.4h0M94.1 77.2h0M94.4 77.7h0M94.7 77.8h0M94.9 77.5h0M95.2 77.6h0M95.5 78.0h0M95.8 77.5h0M96.0 77.9h0M96.3 77.5h0M96.6 77.8h0M96.8 77.4h0M97.1 77.9h0M97.4 77.8h0M97.6 77.6h0M97.9 77.6h0M98.2 77.7h0M98.4 77.9h0M98.7 78.0h0M99.0 78.0h0M99.3 77.7h0M99.5 78.2h0M99.8 78.4h0M100.1 78.1h0M100.3 78.1h0M100.6 78.3h0M100.9 78.4h0M101.1 79.0h0M101.4 78.9h0M101.7 78.8h0M101.9 79.2h0M102.2 78.8h0M102.5 79.2h0M102.8 78.9h0M103.0 78.6h0M103.3 78.6h0M103.6 78.9h0M103.8 78.8h0M104.1 78.8h0M104.4 78.2h0M104.6 78.3h0M104.9 78.6h0M105.2 78.2h0M105.4 78.3h0M105.7 78.2h0M106.0 78.3h0M106.3 78.7h0M106.5 78.9h0M106.8 78.8h0M107.1 78.7h0M107.3 78.7h0M107.6 78.5h0M107.9 78.9h0M108.1 78.8h0M108.4 78.6h0M108.7 78.7h0M108.9 78.8h0M109.2 79.0h0M109.5 79.1h0M109.8 79.2h0M110.0 79.3h0M110.3 78.9h0M110.6 78.9h0M110.8 79.0h0M111.1 79.0h0M111.4 79.2h0M111.6 79.2h0M111.9 79.0h0M112.2 79.0h0M112.4 79.0h0M112.7 78.6h0M113.0 78.7h0M113.3 78.7h0M113.5 78.5h0M113.8 78.6h0M114.1 78.5h0M114.3 78.8h0M114.6 78.6h0M114.9 78.7h0M115.1 79.0h0M115.4 78.8h0M115.7 80.4h0M115.9 80.3h0M116.2 80.3h0M116.5 80.5h0M116.8 80.2h0M117.0 80.7h0M117.3 80.5h0M117.6 80.3h0M117.8 80.7h0M118.1 80.4h0M118.4 80.7h0M118.6 80.8h0M118.9 80.9h0M119.2 80.9h0M119.4 80.5h0M119.7 80.5h0M120.0 82.2h0M120.2 82.1h0M120.5 82.3h0M120.8 82.0h0M121.1 81.8h0M121.3 81.8h0M121.6 81.8h0M121.9 81.8h0M122.1 82.2h0M122.4 82.0h0M122.7 82.2h0M122.9 82.2h0M123.2 82.0h0M123.5 81.8h0M123.7 81.9h0M124.0 82.1h0M124.3 81.8h0M124.6 82.0h0M124.8 82.0h0M125.1 81.7h0M125.4 81.7h0M125.6 82.1h0M125.9 81.8h0M126.2 81.8h0M126.4 81.7h0M126.7 81.8h0M127.0 81.7h0M127.2 82.8h0M127.5 82.7h0M127.8 82.5h0M128.1 82.5h0M128.3 82.5h0M128.6 82.3h0M128.9 82.6h0M129.1 82.7h0M129.4 82.8h0M129.7 82.3h0M129.9 82.4h0M130.2 82.6h0M130.5 82.3h0M130.7 82.5h0M131.0 82.6h0M131.3 82.8h0M131.6 82.5h0M131.8 82.5h0M132.1 82.7h0M132.4 82.7h0M132.6 82.8h0M132.9 83.0h0M133.2 82.8h0M133.4 82.8h0M133.7 84.4h0M134.0 84.2h0M134.2 84.1h0M134.5 84.0h0M134.8 84.3h0M135.1 84.3h0M135.3 83.8h0M135.6 84.1h0M135.9 84.0h0M136.1 83.9h0M136.4 83.8h0M136.7 83.8h0M136.9 83.9h0M137.2 83.5h0M137.5 84.0h0M137.7 83.6h0M138.0 83.6h0M138.3 83.8h0M138.6 83.6h0M138.8 84.1h0M139.1 83.9h0M139.4 83.9h0M139.6 83.9h0M139.9 84.2h0M140.2 84.9h0M140.4 85.0h0M140.7 85.2h0M141.0 85.0h0M141.2 85.2h0M141.5 85.1h0M141.8 85.0h0M142.1 85.0h0M142.3 85.0h0M142.6 85.1h0M142.9 85.0h0M143.1 84.9h0M143.4 85.3h0M143.7 85.1h0M143.9 85.0h0M144.2 86.6h0M144.5 86.8h0M144.7 87.0h0M145.0 86.9h0M145.3 86.9h0M145.6 87.1h0M145.8 86.9h0M146.1 87.0h0M146.4 87.0h0M146.6 87.1h0M146.9 87.2h0M147.2 87.2h0M147.4 87.0h0M147.7 87.1h0M148.0 86.9h0M148.2 87.2h0M148.5 87.0h0M148.8 87.1h0M149.1 87.1h0M149.3 86.8h0M149.6 86.7h0M149.9 86.9h0M150.1 86.6h0M150.4 86.5h0M150.7 87.6h0M150.9 87.4h0M151.2 87.7h0M151.5 87.6h0M151.7 87.3h0M152.0 87.7h0M152.3 87.6h0M152.6 87.7h0M152.8 87.3h0M153.1 87.6h0M153.4 87.4h0M153.6 87.3h0M153.9 87.6h0M154.2 87.6h0M154.4 87.7h0M154.7 87.4h0M155.0 87.4h0M155.2 87.7h0M155.5 89.1h0M155.8 89.5h0M156.1 89.5h0M156.3 89.5h0M156.6 89.2h0M156.9 89.5h0M157.1 89.2h0M157.4 89.3h0M157.7 89.6h0M157.9 89.4h0M158.2 89.4h0M158.5 89.6h0M158.7 89.5h0M159.0 89.6h0M159.3 89.6h0M159.6 89.7h0M159.8 89.7h0M160.1 89.4h0M160.4 89.4h0M160.6 90.4h0M160.9 90.3h0M161.2 90.4h0M161.4 90.0h0M161.7 90.3h0M162.0 90.1h0M162.2 90.3h0M162.5 90.0h0M162.8 90.2h0M163.1 89.8h0M163.3 89.9h0M163.6 89.8h0M163.9 90.0h0M164.1 89.8h0M164.4 90.0h0M164.7 89.8h0M164.9 89.9h0M165.2 89.8h0M165.5 90.0h0M165.7 89.7h0M166.0 90.0h0M166.3 89.9h0M166.6 90.0h0M166.8 91.5h0M167.1 91.3h0M167.4 91.2h0M167.6 91.3h0M167.9 91.3h0M168.2 91.6h0M168.4 91.5h0M168.7 91.4h0M169.0 91.6h0M169.2 91.3h0M169.5 91.6h0M169.8 91.6h0M170.1 91.7h0M170.3 91.7h0M170.6 91.6h0M170.9 91.7h0M171.1 91.8h0M171.4 91.7h0M171.7 91.4h0M171.9 91.6h0M172.2 93.1h0M172.5 92.9h0M172.7 93.2h0M173.0 92.9h0M173.3 93.1h0M173.6 93.2h0M173.8 93.0h0M174.1 92.8h0M174.4 92.9h0M174.6 92.9h0M174.9 93.1h0M175.2 92.9h0M175.4 92.8h0M175.7 92.9h0M176.0 92.9h0M176.2 93.0h0M176.5 92.8h0M176.8 93.6h0M177.1 93.7h0M177.3 93.4h0M177.6 93.6h0M177.9 93.6h0M178.1 93.6h0M178.4 93.4h0M178.7 93.2h0M178.9 93.6h0M179.2 93.5h0M179.5 93.4h0M179.7 93.2h0M180.0 93.3h0M180.3 93.6h0M180.6 93.4h0M180.8 93.4h0M181.1 93.8h0M181.4 93.5h0M181.6 95.3h0M181.9 95.3h0M182.2 95.5h0M182.4 95.3h0M182.7 95.5h0M183.0 95.4h0M183.2 95.4h0M183.5 95.5h0M183.8 95.1h0M184.1 95.4h0M184.3 95.1h0M184.6 95.3h0M184.9 95.3h0M185.1 95.0h0M185.4 96.5h0M185.7 96.5h0M185.9 96.3h0M186.2 96.5h0M186.5 96.3h0M186.7 96.4h0M187.0 96.7h0M187.3 96.5h0M187.6 96.3h0M187.8 96.7h0M188.1 96.6h0M188.4 96.3h0M188.6 96.2h0M188.9 96.4h0M189.2 96.9h0M189.4 97.1h0M189.7 96.8h0M190.0 97.2h0M190.2 96.9h0M190.5 96.8h0M190.8 96.9h0M191.0 97.2h0M191.3 96.8h0M191.6 97.0h0M191.9 97.1h0M192.1 97.0h0M192.4 97.3h0M192.7 97.1h0M192.9 98.5h0M193.2 98.7h0M193.5 98.5h0M193.7 98.7h0M194.0 98.5h0M194.3 98.7h0M194.5 98.5h0M194.8 98.7h0M195.1 98.9h0M195.4 98.7h0M195.6 98.8h0M195.9 98.6h0M196.2 98.6h0M196.4 98.5h0M196.7 98.6h0M197.0 98.8h0M197.2 98.9h0M197.5 98.8h0M197.8 98.8h0M198.0 98.6h0M198.3 99.5h0M198.6 99.2h0M198.9 99.3h0M199.1 99.2h0M199.4 99.3h0M199.7 99.5h0M199.9 99.3h0M200.2 99.5h0M200.5 99.3h0M200.7 99.1h0M201.0 99.3h0M201.3 99.1h0M201.5 99.2h0M201.8 99.0h0M202.1 99.1h0M202.4 99.0h0M202.6 98.9h0M202.9 98.9h0M203.2 99.2h0M203.4 99.2h0M203.7 98.9h0M204.0 98.8h0M204.2 98.9h0M204.5 99.2h0M204.8 99.3h0M205.0 99.4h0M205.3 99.2h0M205.6 99.1h0M205.9 100.1h0M206.1 100.2h0M206.4 100.4h0M206.7 100.6h0M206.9 100.4h0M207.2 100.5h0M207.5 100.3h0M207.7 100.4h0M208.0 100.3h0M208.3 100.6h0M208.5 100.5h0M208.8 100.8h0M209.1 100.7h0M209.4 100.5h0M209.6 100.4h0M209.9 100.5h0M210.2 100.3h0M210.4 100.6h0M210.7 100.7h0M211.0 100.5h0M211.2 100.3h0M211.5 100.3h0M211.8 100.3h0M212.0 100.6h0M212.3 100.7h0M212.6 100.3h0M212.9 102.1h0M213.1 102.6h0M213.4 102.2h0M213.7 102.5h0M213.9 102.4h0M214.2 102.2h0M214.5 102.6h0M214.7 102.5h0M215.0 102.4h0M215.3 102.4h0M215.5 102.4h0M215.8 102.3h0M216.1 102.3h0M216.4 102.3h0M216.6 102.3h0M216.9 102.0h0M217.2 102.1h0M217.4 102.1h0M217.7 101.8h0M218.0 103.3h0M218.2 103.2h0M218.5 103.0h0M218.8 103.1h0M219.0 103.0h0M219.3 102.9h0M219.6 102.9h0M219.9 103.0h0M220.1 102.7h0M220.4 103.0h0M220.7 102.8h0M220.9 102.8h0M221.2 102.9h0M221.5 102.6h0M221.7 102.8h0M222.0 102.8h0M222.3 102.5h0M222.5 102.7h0M222.8 102.7h0M223.1 103.8h0M223.4 103.6h0M223.6 103.5h0M223.9 103.6h0M224.2 103.5h0M224.4 103.5h0M224.7 103.9h0M225.0 103.6h0M225.2 103.8h0M225.5 103.6h0M225.8 103.9h0M226.0 103.9h0M226.3 103.7h0M226.6 103.9h0M226.9 104.0h0M227.1 103.8h0M227.4 103.9h0M227.7 104.0h0M227.9 104.0h0M228.2 105.1h0M228.5 105.2h0M228.7 105.0h0M229.0 105.1h0M229.3 105.0h0M229.5 105.1h0M229.8 104.7h0M230.1 104.8h0M230.4 104.8h0M230.6 104.9h0M230.9 104.8h0M231.2 104.6h0M231.4 104.7h0M231.7 104.5h0M232.0 104.4h0M232.2 104.4h0M232.5 105.5h0M232.8 105.7h0M233.0 105.3h0M233.3 105.4h0M233.6 105.3h0M233.9 105.4h0M234.1 105.6h0M234.4 105.5h0M234.7 105.4h0M234.9 105.4h0M235.2 105.8h0M235.5 106.0h0M235.7 105.8h0M236.0 105.7h0M236.3 105.8h0M236.5 106.2h0M236.8 105.9h0M237.1 106.4h0M237.4 106.1h0M237.6 106.1h0M237.9 106.3h0M238.2 106.2h0M238.4 106.2h0M238.7 107.9h0M239.0 107.9h0M239.2 107.8h0M239.5 107.5h0M239.8 107.5h0M240.0 107.5h0M240.3 107.5h0M240.6 107.5h0M240.9 107.4h0M241.1 107.4h0M241.4 107.5h0M241.7 107.2h0M241.9 107.2h0M242.2 107.2h0M242.5 107.3h0M242.7 107.0h0M243.0 107.3h0M243.3 107.0h0M243.5 107.1h0M243.8 107.2h0M244.1 106.9h0M244.4 107.4h0M244.6 107.2h0M244.9 107.4h0M245.2 108.1h0M245.4 107.9h0M245.7 108.1h0M246.0 108.1h0M246.2 108.5h0M246.5 108.5h0M246.8 108.4h0M247.0 108.5h0M247.3 108.4h0M247.6 108.3h0M247.9 108.6h0M248.1 108.6h0M248.4 108.3h0M248.7 108.4h0M248.9 108.2h0M249.2 108.7h0M249.5 109.2h0M249.7 109.2h0M250.0 109.0h0M250.3 109.4h0M250.5 109.1h0M250.8 109.4h0M251.1 109.4h0M251.4 109.4h0M251.6 109.6h0M251.9 109.6h0M252.2 109.6h0M252.4 109.5h0M252.7 109.4h0M253.0 109.7h0M253.2 109.5h0M253.5 109.5h0M253.8 109.5h0M254.0 109.4h0M254.3 109.3h0M254.6 109.5h0M254.8 109.3h0M255.1 109.6h0M255.4 109.5h0M255.7 109.3h0M255.9 110.6h0M256.2 110.8h0M256.5 110.5h0M256.7 110.5h0M257.0 110.6h0M257.3 110.5h0M257.5 110.5h0M257.8 110.8h0M258.1 110.7h0M258.3 110.8h0M258.6 110.8h0M258.9 110.6h0M259.2 110.7h0M259.4 110.6h0M259.7 111.0h0M260.0 110.8h0M260.2 110.9h0M260.5 110.9h0M260.8 111.5h0M261.0 111.7h0M261.3 111.8h0M261.6 111.8h0M261.8 111.4h0M262.1 111.4h0M262.4 111.5h0M262.7 111.6h0M262.9 111.4h0M263.2 111.7h0M263.5 111.7h0M263.7 111.5h0M264.0 111.8h0M264.3 111.5h0M264.5 111.5h0M264.8 112.0h0M265.1 111.7h0M265.3 111.7h0M265.6 111.9h0M265.9 111.7h0M266.2 111.9h0M266.4 111.9h0M266.7 111.7h0M267.0 111.8h0M267.2 111.8h0M267.5 111.9h0M267.8 111.8h0M268.0 111.7h0M268.3 113.3h0M268.6 113.2h0M268.8 113.3h0M269.1 112.9h0M269.4 112.9h0M269.7 113.2h0M269.9 113.1h0M270.2 112.9h0M270.5 112.9h0M270.7 113.1h0M271.0 113.2h0M271.3 113.1h0M271.5 112.9h0M271.8 113.2h0M272.1 113.0h0M272.3 113.1h0M272.6 113.2h0M272.9 113.3h0M273.2 112.9h0M273.4 113.9h0M273.7 114.2h0M274.0 114.0h0M274.2 113.9h0M274.5 113.8h0M274.8 113.9h0M275.0 114.0h0M275.3 113.9h0M275.6 113.9h0M275.8 113.9h0M276.1 113.9h0M276.4 113.6h0M276.7 113.5h0M276.9 113.8h0M277.2 113.7h0M277.5 114.7h0M277.7 114.6h0M278.0 114.5h0M278.3 114.4h0M278.5 114.4h0M278.8 114.6h0M279.1 114.8h0M279.3 114.6h0M279.6 114.7h0M279.9 114.5h0M280.2 114.6h0M280.4 114.6h0M280.7 114.6h0M281.0 114.6h0M281.2 114.6h0M281.5 115.0h0M281.8 114.9h0M282.0 115.0h0M282.3 114.7h0M282.6 116.3h0M282.8 116.4h0M283.1 116.2h0M283.4 116.3h0M283.7 116.2h0M283.9 116.3h0M284.2 116.5h0M284.5 116.1h0M284.7 116.3h0M285.0 116.4h0M285.3 116.4h0M285.5 116.2h0M285.8 116.5h0M286.1 116.4h0M286.3 116.1h0M286.6 116.3h0M286.9 116.4h0M287.2 116.5h0M287.4 116.2h0M287.7 116.4h0M288.0 116.4h0M288.2 117.1h0M288.5 117.2h0M288.8 117.4h0M289.0 117.2h0M289.3 117.2h0M289.6 117.3h0M289.8 117.4h0M290.1 117.0h0M290.4 117.0h0M290.7 117.0h0M290.9 117.1h0M291.2 117.3h0M291.5 117.0h0M291.7 117.0h0M292.0 117.0h0M292.3 117.1h0M292.5 117.1h0M292.8 116.8h0M293.1 117.1h0M293.3 116.9h0M293.6 116.7h0M293.9 116.9h0M294.2 117.8h0M294.4 117.6h0M294.7 117.4h0M295.0 117.7h0M295.2 117.7h0M295.5 117.6h0M295.8 117.7h0M296.0 117.7h0M296.3 117.6h0M296.6 117.7h0M296.8 117.6h0M297.1 117.6h0M297.4 117.8h0M297.7 117.6h0M297.9 118.0h0M298.2 118.1h0M298.5 117.8h0M298.7 118.0h0M299.0 118.0h0M299.3 118.3h0M299.5 118.3h0M299.8 118.2h0M300.1 119.5h0M300.3 119.7h0M300.6 119.6h0M300.9 119.8h0M301.2 119.6h0M301.4 119.7h0M301.7 119.8h0M302.0 119.8h0M302.2 119.8h0M302.5 119.8h0M302.8 119.7h0M303.0 119.6h0M303.3 119.5h0M303.6 119.6h0M303.8 119.5h0M304.1 119.7h0M304.4 119.4h0M304.7 119.8h0M304.9 119.8h0M305.2 119.6h0M305.5 119.5h0M305.7 119.8h0M306.0 119.5h0M306.3 119.8h0M306.5 120.9h0M306.8 121.2h0M307.1 121.3h0M307.3 121.2h0M307.6 121.1h0M307.9 121.1h0M308.2 121.2h0M308.4 121.4h0M308.7 121.2h0M309.0 121.4h0M309.2 121.5h0M309.5 121.1h0M309.8 121.1h0M310.0 121.5h0M310.3 121.3h0M310.6 121.3h0M310.8 121.3h0M311.1 121.4h0M311.4 121.3h0M311.7 122.6h0M311.9 122.4h0M312.2 122.6h0M312.5 122.5h0M312.7 122.3h0M313.0 122.5h0M313.3 122.3h0M313.5 122.4h0M313.8 122.0h0M314.1 122.0h0M314.3 121.8h0M314.6 121.8h0M314.9 122.1h0M315.2 121.8h0M315.4 121.8h0M315.7 121.9h0M316.0 122.0h0M316.2 123.4h0M316.5 123.3h0M316.8 123.6h0M317.0 123.6h0M317.3 123.6h0M317.6 123.2h0M317.8 123.5h0M318.1 123.4h0M318.4 123.4h0M318.7 123.2h0M318.9 123.6h0M319.2 123.4h0M319.5 123.5h0M319.7 123.2h0M320.0 123.5h0M320.3 123.2h0M320.5 123.3h0M320.8 124.4h0M321.1 124.3h0M321.3 124.5h0M321.6 124.4h0M321.9 124.4h0M322.1 124.4h0M322.4 124.6h0M322.7 124.6h0M323.0 124.5h0M323.2 124.4h0M323.5 124.7h0M323.8 124.5h0M324.0 124.3h0M324.3 124.5h0M324.6 124.2h0M324.8 124.2h0M325.1 124.4h0M325.4 124.4h0M325.6 125.5h0M325.9 125.5h0M326.2 125.2h0M326.5 125.6h0M326.7 125.3h0M327.0 125.3h0M327.3 125.7h0M327.5 125.7h0M327.8 125.5h0M328.1 125.3h0M328.3 125.5h0M328.6 125.6h0M328.9 125.7h0M329.1 125.6h0M329.4 125.8h0M329.7 125.6h0M330.0 125.8h0M330.2 125.8h0M330.5 126.6h0M330.8 127.0h0M331.0 127.0h0M331.3 127.0h0M331.6 126.7h0M331.8 126.7h0M332.1 127.0h0M332.4 126.7h0M332.6 126.8h0M332.9 127.2h0M333.2 126.9h0M333.5 126.8h0M333.7 127.2h0M334.0 127.3h0M334.3 127.0h0M334.5 127.1h0M334.8 128.1h0M335.1 128.3h0M335.3 128.2h0M335.6 128.3h0M335.9 128.3h0M336.1 128.6h0M336.4 128.5h0M336.7 128.2h0M337.0 128.3h0M337.2 128.4h0M337.5 128.3h0M337.8 128.2h0M338.0 128.4h0M338.3 128.5h0M338.6 128.4h0M338.8 128.4h0M339.1 128.3h0M339.4 128.1h0M339.6 128.2h0M339.9 128.4h0M340.2 128.3h0M340.5 128.3h0M340.7 128.3h0M341.0 128.2h0M341.3 130.0h0M341.5 129.7h0M341.8 129.9h0M342.1 129.6h0M342.3 129.8h0M342.6 129.7h0M342.9 129.7h0M343.1 129.7h0M343.4 129.6h0M343.7 129.7h0M344.0 129.6h0M344.2 129.7h0M344.5 129.7h0M344.8 129.8h0M345.0 131.0h0M345.3 130.9h0M345.6 131.1h0M345.8 131.1h0M346.1 131.4h0M346.4 131.4h0M346.6 131.5h0M346.9 131.4h0M347.2 131.3h0M347.5 131.7h0M347.7 131.4h0M348.0 131.6h0M348.3 131.8h0M348.5 132.5h0M348.8 132.9h0M349.1 132.8h0M349.3 132.9h0M349.6 132.9h0M349.9 132.7h0M350.1 132.9h0M350.4 132.9h0M350.7 132.6h0M351.0 132.7h0M351.2 132.7h0M351.5 132.8h0M351.8 132.3h0M352.0 132.6h0M352.3 132.4h0M352.6 132.3h0M352.8 132.2h0M353.1 132.3h0M353.4 132.3h0M353.6 132.1h0M353.9 132.3h0M354.2 132.0h0M354.5 132.3h0M354.7 132.3h0M355.0 132.2h0M355.3 133.8h0M355.5 133.6h0M355.8 133.6h0M356.1 133.9h0M356.3 133.7h0M356.6 133.8h0M356.9 134.0h0M357.1 133.8h0M357.4 133.9h0M357.7 134.0h0M358.0 134.0h0M358.2 133.9h0M358.5 134.0h0M358.8 133.9h0M359.0 133.8h0M359.3 133.9h0M359.6 133.7h0M359.8 134.9h0M360.1 134.9h0M360.4 134.6h0M360.6 134.7h0M360.9 134.4h0M361.2 134.4h0M361.5 134.5h0M361.7 134.5h0M362.0 134.5h0M362.3 134.4h0M362.5 134.4h0M362.8 134.1h0M363.1 134.2h0M363.3 134.0h0M363.6 134.0h0M363.9 134.2h0M364.1 134.0h0M364.4 134.1h0M364.7 135.9h0M365.0 135.6h0M365.2 135.6h0M365.5 135.7h0M365.8 135.7h0M366.0 135.7h0M366.3 135.5h0M366.6 135.6h0M366.8 136.0h0M367.1 135.7h0M367.4 135.9h0M367.6 136.0h0M367.9 135.9h0M368.2 135.8h0M368.5 135.7h0M368.7 136.0h0M369.0 136.2h0M369.3 137.3h0M369.5 137.4h0M369.8 137.3h0M370.1 137.3h0M370.3 137.6h0M370.6 137.3h0M370.9 137.6h0M371.1 137.8h0M371.4 137.8h0M371.7 137.6h0M372.0 137.4h0M372.2 137.5h0M372.5 137.8h0M372.8 137.4h0M373.0 137.6h0M373.3 137.5h0M373.6 138.9h0M373.8 139.1h0M374.1 139.0h0M374.4 139.0h0M374.6 138.7h0M374.9 138.9h0M375.2 139.0h0M375.5 138.9h0M375.7 138.8h0M376.0 139.0h0M376.3 138.6h0M376.5 138.5h0M376.8 138.6h0M377.1 138.5h0M377.3 138.8h0M377.6 139.6h0M377.9 139.7h0M378.1 139.7h0M378.4 139.8h0M378.7 140.0h0M379.0 139.7h0M379.2 139.7h0M379.5 139.7h0M379.8 139.8h0M380.0 139.6h0M380.3 140.0h0M380.6 139.9h0M380.8 139.7h0M381.1 139.9h0M381.4 140.1h0M381.6 139.8h0M381.9 140.9h0M382.2 141.0h0M382.5 140.7h0M382.7 140.8h0M383.0 141.0h0M383.3 140.8h0M383.5 140.9h0M383.8 140.9h0M384.1 140.6h0M384.3 140.7h0M384.6 140.5h0M384.9 140.8h0M385.1 140.7h0M385.4 142.3h0M385.7 142.6h0M386.0 142.3h0M386.2 142.5h0M386.5 142.5h0M386.8 142.4h0M387.0 142.6h0M387.3 142.7h0M387.6 142.6h0M387.8 142.7h0M388.1 143.0h0M388.4 142.9h0M388.6 142.8h0M388.9 142.8h0M389.2 143.8h0M389.4 143.8h0M389.7 143.8h0M390.0 143.7h0M390.3 143.6h0M390.5 143.6h0M390.8 143.8h0M391.1 143.8h0M391.3 143.7h0M391.6 143.6h0M391.9 143.3h0M392.1 143.6h0M392.4 143.3h0M392.7 144.8h0M392.9 144.9h0M393.2 144.9h0M393.5 144.9h0M393.8 144.6h0M394.0 144.6h0M394.3 145.0h0M394.6 145.0h0M394.8 144.6h0M395.1 144.8h0M395.4 144.9h0M395.6 146.0h0M395.9 146.0h0M396.2 146.4h0M396.4 146.3h0M396.7 146.2h0M397.0 146.4h0M397.3 146.2h0M397.5 146.3h0M397.8 146.4h0M398.1 146.7h0M398.3 148.0h0M398.6 148.1h0M398.9 148.5h0M399.1 148.5h0M399.4 148.4h0M399.7 148.2h0M399.9 148.6h0M400.2 148.7h0M400.5 148.4h0M400.8 148.4h0M401.0 148.6h0M401.3 149.8h0M401.6 149.8h0M401.8 149.7h0M402.1 149.4h0M402.4 149.7h0M402.6 149.6h0M402.9 149.4h0M403.2 149.4h0M403.4 150.7h0M403.7 150.6h0M404.0 150.5h0M404.3 150.6h0M404.5 150.8h0M404.8 150.7h0M405.1 150.6h0M405.3 150.6h0M405.6 150.7h0M405.9 152.0h0M406.1 151.6h0M406.4 151.7h0M406.7 151.8h0M406.9 151.9h0M407.2 152.0h0M407.5 152.0h0M407.8 151.9h0M408.0 153.4h0M408.3 153.3h0M408.6 153.3h0M408.8 153.4h0M409.1 153.3h0M409.4 153.7h0M409.6 153.6h0M409.9 153.4h0M410.2 153.8h0M410.4 154.4h0M410.7 154.3h0M411.0 154.4h0M411.3 154.6h0M411.5 154.6h0M411.8 154.3h0M412.1 154.3h0M412.3 154.3h0M412.6 155.5h0M412.9 155.5h0M413.1 155.3h0M413.4 155.4h0M413.7 155.5h0M413.9 155.3h0M414.2 155.4h0M414.5 155.4h0M414.8 155.2h0M415.0 156.8h0M415.3 156.5h0M415.6 156.9h0M415.8 156.9h0M416.1 157.0h0M416.4 156.7h0M416.6 156.8h0M416.9 156.8h0M417.2 158.5h0M417.4 158.6h0M417.7 158.4h0M418.0 158.6h0M418.3 158.8h0M418.5 158.8h0M418.8 158.9h0M419.1 158.8h0M419.3 158.7h0M419.6 159.7h0M419.9 159.5h0M420.1 159.4h0M420.4 159.5h0M420.7 159.4h0M420.9 159.4h0M421.2 159.3h0M421.5 159.4h0M421.8 160.4h0M422.0 160.3h0M422.3 160.3h0M422.6 160.2h0M422.8 160.5h0M423.1 160.5h0M423.4 160.5h0M423.6 160.4h0M423.9 160.5h0M424.2 161.9h0M424.4 161.9h0M424.7 162.1h0M425.0 161.9h0M425.3 162.0h0M425.5 162.2h0M425.8 162.1h0M426.1 162.3h0M426.3 163.1h0M426.6 163.3h0M426.9 162.9h0M427.1 163.2h0M427.4 163.1h0M427.7 162.9h0M427.9 163.0h0M428.2 162.7h0M428.5 162.6h0M428.8 164.4h0M429.0 164.4h0M429.3 164.1h0M429.6 164.1h0M429.8 164.0h0M430.1 164.0h0M430.4 164.0h0M430.6 164.1h0M430.9 165.6h0M431.2 165.5h0M431.4 165.5h0M431.7 165.6h0M432.0 165.4h0M432.3 165.6h0M432.5 165.9h0M432.8 165.7h0M433.1 165.8h0M433.3 167.3h0M433.6 167.3h0M433.9 167.3h0M434.1 167.2h0M434.4 167.1h0M434.7 167.0h0M434.9 167.0h0M435.2 167.0h0M435.5 168.4h0M435.8 168.3h0M436.0 168.1h0M436.3 168.3h0M436.6 168.0h0M436.8 168.0h0M437.1 168.3h0M437.4 168.4h0M437.6 168.1h0M437.9 169.4h0M438.2 169.1h0M438.4 169.3h0M438.7 169.1h0M439.0 169.3h0M439.3 169.1h0M439.5 169.1h0M439.8 169.3h0M440.1 170.5h0M440.3 170.6h0M440.6 170.6h0M440.9 170.3h0M441.1 170.4h0M441.4 170.3h0M441.7 170.3h0M441.9 170.6h0M442.2 170.3h0M442.5 172.0h0M442.8 171.9h0M443.0 172.2h0M443.3 172.1h0M443.6 172.0h0M443.8 172.1h0M444.1 172.4h0M444.4 172.4h0M444.6 173.5h0M444.9 173.9h0M445.2 173.6h0M445.4 173.9h0M445.7 173.8h0M446.0 174.1h0M446.3 175.1h0M446.5 174.9h0M446.8 175.2h0M447.1 175.1h0M447.3 175.1h0M447.6 174.8h0M447.9 174.7h0M448.1 176.3h0M448.4 175.8h0M448.7 176.0h0M448.9 175.8h0M449.2 175.7h0M449.5 175.8h0M449.8 176.9h0M450.0 177.3h0M450.3 176.9h0M450.6 177.0h0M450.8 177.1h0M451.1 177.2h0M451.4 177.4h0M451.6 178.9h0M451.9 179.1h0M452.2 179.0h0M452.4 179.2h0M452.7 179.2h0M453.0 179.2h0M453.3 180.3h0M453.5 180.2h0M453.8 180.2h0M454.1 180.4h0M454.3 180.6h0M454.6 180.5h0M454.9 180.7h0M455.1 182.8h0M455.4 182.8h0M455.7 182.9h0M455.9 183.7h0M456.2 183.8h0M456.5 183.6h0M456.8 185.0h0M457.0 184.9h0M457.3 184.5h0M457.6 186.2h0M457.8 186.2h0M458.1 186.2h0M458.4 187.5h0M458.6 187.2h0M458.9 187.4h0M459.2 188.4h0M459.4 188.6h0M459.7 188.6h0M460.0 190.3h0M460.2 190.4h0M460.5 190.1h0M460.8 191.7h0M461.1 191.7h0M461.3 191.8h0M461.6 193.2h0M461.9 193.0h0M462.1 193.0h0M462.4 194.5h0M462.7 194.2h0M462.9 195.3h0M463.2 195.3h0M463.5 195.1h0M463.7 196.4h0M464.0 196.1h0M464.3 196.7h0M464.6 196.5h0M464.8 196.5h0M465.1 197.8h0M465.4 197.5h0M465.6 198.5h0M465.9 198.3h0M466.2 198.0h0M466.4 198.5h0M466.7 198.4h0M467.0 199.3h0M467.2 199.3h0M467.5 199.1h0M467.8 199.7h0M468.1 199.7h0M468.3 201.0h0M468.6 200.6h0M468.9 201.0h0M469.1 201.9h0M469.4 201.9h0M469.7 203.5h0M469.9 203.8h0M470.2 205.4h0M470.5 205.7h0M470.7 207.0h0M471.0 207.1h0M471.3 208.6h0M471.6 208.9h0M471.8 210.3h0M472.1 210.7h0M472.4 212.4h0M472.6 212.7h0M472.9 213.6h0M473.2 213.4h0M473.4 214.5h0M473.7 214.7h0M474.0 215.8h0M474.2 215.6h0M474.5 216.0h0M474.8 215.8h0M475.1 216.8h0M475.3 217.4h0M475.6 217.5h0M475.9 218.3h0M476.1 219.6h0M476.4 219.4h0M476.7 220.7h0M476.9 221.7h0M477.2 221.6h0M477.5 222.5h0M477.7 223.7h0M478.0 223.6h0M478.3 224.7h0M478.6 225.9h0M478.8 226.2h0M479.1 227.4h0M479.4 229.0h0M479.6 229.1h0M479.9 229.9h0M480.2 231.3h0M480.4 231.3h0M480.7 232.2h0M481.0 233.5h0M481.2 233.4h0M481.5 235.1h0M481.8 235.8h0M482.1 235.4h0M482.2 236.8h0M482.3 236.7h0M482.5 236.8h0M482.6 237.6h0M482.7 238.0h0M482.9 238.0h0M483.0 239.2h0M483.1 239.4h0M483.3 239.4h0M483.4 240.3h0M483.5 240.1h0M483.7 240.4h0M483.8 242.8h0M483.9 243.1h0M484.1 243.0h0M484.2 244.8h0M484.3 245.3h0M484.5 245.1h0M484.6 247.1h0M484.7 247.5h0M20.9 43.4h0M18.9 46.3h0M20.5 49.3h0M19.3 54.7h0M19.5 84.9h0M24.1 23.3h0M20.3 20.2h0M18.9 28.0h0M19.5 24.0h0M22.2 17.6h0M22.3 18.6h0M485.9 252.5h0M486.1 255.5h0M486.4 259.4h0M486.6 262.0h0M486.7 264.2h0M487.0 268.3h0M487.3 272.0h0M487.8 275.2h0M488.0 279.0h0M488.1 282.8h0M488.2 287.2h0M488.3 292.5h0M488.4 299.4h1.6M489.5 308.3h0M489.5 317.7h0M489.5 331.3h0M489.5 356.5h0"/>
<path stroke="#5e81b5" stroke-width="3.4" d="M19.4 36.6h0M19.6 32.8h0M19.7 33.5h0M19.8 32.7h0M20.0 31.8h0M20.1 30.4h0M20.2 33.6h0M20.4 30.3h0M20.5 26.8h0M20.6 27.8h0M20.8 25.1h0M20.9 34.2h0M21.0 36.5h0M21.2 32.1h0M21.3 27.7h0M21.5 25.7h0M21.6 23.7h0M21.7 28.8h0M21.9 33.3h0M22.0 22.1h0M22.1 35.6h0M22.3 23.5h0M22.4 32.1h0M22.5 24.7h0M22.7 32.8h0M22.8 37.6h0M22.9 28.0h0M23.1 28.3h0M23.2 27.3h0M23.3 23.1h0M23.5 27.8h0M23.6 27.6h0M23.7 29.7h0M23.9 33.6h0M24.0 29.1h0M24.1 31.3h0M24.3 28.4h0M24.4 37.7h0M24.5 26.6h0M24.7 37.3h0M24.8 28.8h0M25.0 37.0h0M25.1 27.8h0M25.2 30.2h0M25.4 37.6h0M25.5 29.5h0M25.6 36.1h0M25.8 36.9h0M25.9 37.3h0M26.0 35.6h0M26.2 38.5h0M26.3 33.0h0M26.4 34.6h0M26.6 34.5h0M26.7 34.4h0M26.8 33.0h0M27.0 32.7h0M27.1 37.9h0M27.2 32.1h0M27.4 39.0h0M27.5 33.3h0M27.6 31.4h0M27.8 32.6h0M27.9 34.6h0M28.0 37.6h0M28.2 35.3h0M28.3 36.1h0M28.5 35.8h0M28.7 40.1h0M29.0 44.5h0M29.3 43.1h0M29.5 47.4h0M29.8 46.0h0M30.1 44.0h0M30.3 46.9h0M30.6 49.7h0M30.9 49.8h0M31.1 46.7h0M31.4 47.3h0M31.7 50.4h0M32.0 50.3h0M32.2 49.9h0M32.5 48.5h0M32.8 50.5h0M33.0 51.4h0M33.3 51.6h0M33.6 53.8h0M33.8 54.6h0M34.1 52.0h0M34.4 52.0h0M34.6 55.1h0M34.9 57.0h0M35.2 55.4h0M35.5 54.4h0M35.7 55.2h0M36.0 56.0h0M36.3 56.7h0M36.5 56.8h0M36.8 56.4h0M37.1 57.6h0M37.3 57.9h0M37.6 55.5h0M37.9 55.2h0M38.1 55.2h0M38.4 55.1h0M38.7 57.5h0M39.0 57.0h0M39.2 54.9h0M39.5 57.9h0M39.8 57.8h0M40.0 57.3h0M40.3 54.5h0M40.6 58.2h0M40.8 59.1h0M41.1 57.5h0M41.4 56.3h0M41.6 58.3h0M41.9 57.3h0M42.2 57.7h0M42.5 59.2h0M42.7 58.0h0M43.0 58.3h0M43.3 56.2h0M43.5 56.6h0M43.8 56.8h0M44.1 56.0h0M44.3 57.2h0M44.6 57.1h0M44.9 60.5h0M45.1 58.5h0M45.4 57.6h0M45.7 60.2h0M46.0 58.2h0M46.2 58.1h0M46.5 58.6h0M46.8 57.8h0M47.0 58.4h0M47.3 59.5h0M47.6 58.9h0M47.8 60.4h0M48.1 58.4h0M48.4 60.4h0M48.6 58.5h0M48.9 59.7h0M49.2 59.1h0M49.5 58.8h0M49.7 59.7h0M50.0 59.5h0M50.3 61.9h0M50.5 61.6h0M50.8 59.7h0M51.1 61.7h0M51.3 61.4h0M51.6 60.9h0M51.9 61.4h0M52.1 61.3h0M52.4 60.7h0M52.7 61.4h0M53.0 62.2h0M53.2 61.0h0M53.5 62.8h0M53.8 62.5h0M54.0 61.9h0M54.3 61.7h0M54.6 62.4h0M54.8 61.9h0M55.1 62.8h0M55.4 62.4h0M55.6 62.0h0M55.9 62.5h0M56.2 62.2h0M56.4 63.8h0M56.7 64.1h0M57.0 63.9h0M57.3 64.5h0M57.5 63.8h0M57.8 62.5h0M58.1 62.4h0M58.3 63.8h0M58.6 64.6h0M58.9 63.3h0M59.1 63.5h0M59.4 62.6h0M59.7 63.4h0M59.9 64.5h0M60.2 63.9h0M60.5 63.9h0M60.8 64.3h0M61.0 63.4h0M61.3 65.3h0M61.6 65.1h0M61.8 63.4h0M62.1 64.3h0M62.4 64.7h0M62.6 64.1h0M62.9 64.8h0M63.2 66.7h0M63.4 65.5h0M63.7 66.6h0M64.0 65.6h0M64.3 66.4h0M64.5 66.1h0M64.8 66.9h0M65.1 65.4h0M65.3 67.1h0M65.6 65.8h0M65.9 65.4h0M66.1 66.5h0M66.4 66.7h0M66.7 67.5h0M66.9 67.0h0M67.2 67.6h0M67.5 67.7h0M67.8 67.5h0M68.0 66.6h0M68.3 67.3h0M68.6 67.3h0M68.8 68.2h0M69.1 66.7h0M69.4 66.9h0M69.6 69.0h0M69.9 69.4h0M70.2 68.6h0M70.4 69.0h0M70.7 69.5h0M71.0 69.9h0M71.3 69.1h0M71.5 68.7h0M71.8 68.3h0M72.1 68.9h0M72.3 68.6h0M72.6 68.2h0M72.9 70.3h0M73.1 71.1h0M73.4 71.0h0M73.7 70.0h0M73.9 70.8h0M74.2 70.8h0M74.5 69.4h0M74.8 69.4h0M75.0 70.5h0M75.3 69.7h0M75.6 69.8h0M75.8 70.2h0M76.1 70.3h0M76.4 69.7h0M76.6 69.5h0M76.9 69.9h0M77.2 71.5h0M77.4 72.1h0M77.7 71.3h0M78.0 71.0h0M78.3 72.2h0M78.5 71.8h0M78.8 71.4h0M79.1 71.9h0M79.3 71.5h0M79.6 71.4h0M79.9 71.1h0M80.1 71.4h0M80.4 71.5h0M80.7 71.6h0M80.9 71.7h0M81.2 72.6h0M81.5 72.8h0M81.8 72.6h0M82.0 73.8h0M82.3 73.2h0M82.6 73.0h0M82.8 73.5h0M83.1 74.3h0M83.4 73.2h0M83.6 74.4h0M83.9 74.2h0M84.2 75.2h0M84.4 74.4h0M84.7 74.1h0M85.0 74.9h0M85.3 74.8h0M85.5 74.1h0M85.8 75.2h0M86.1 74.4h0M86.3 74.2h0M86.6 76.3h0M86.9 76.3h0M87.1 75.8h0M87.4 75.2h0M87.7 76.2h0M87.9 75.7h0M88.2 76.3h0M88.5 75.8h0M88.8 75.4h0M89.0 75.2h0M89.3 78.2h0M89.6 77.5h0M89.8 77.7h0M90.1 77.1h0M90.4 78.0h0M90.6 77.5h0M90.9 78.0h0M91.2 77.5h0M91.4 77.0h0M91.7 78.0h0M92.0 77.8h0M92.3 77.8h0M92.5 78.3h0M92.8 78.2h0M93.1 77.9h0M93.3 77.7h0M93.6 77.9h0M93.9 78.1h0M94.1 77.4h0M94.4 79.7h0M94.7 79.0h0M94.9 79.4h0M95.2 79.7h0M95.5 79.4h0M95.8 79.2h0M96.0 79.0h0M96.3 79.4h0M96.6 79.0h0M96.8 79.7h0M97.1 79.5h0M97.4 79.4h0M97.6 79.8h0M97.9 79.6h0M98.2 79.7h0M98.4 80.2h0M98.7 79.6h0M99.0 79.4h0M99.3 80.4h0M99.5 79.9h0M99.8 80.4h0M100.1 79.8h0M100.3 79.9h0M100.6 80.5h0M100.9 81.8h0M101.1 81.9h0M101.4 81.7h0M101.7 82.0h0M101.9 81.8h0M102.2 82.0h0M102.5 82.1h0M102.8 81.3h0M103.0 82.0h0M103.3 81.5h0M103.6 81.7h0M103.8 81.5h0M104.1 81.3h0M104.4 81.8h0M104.6 82.0h0M104.9 81.1h0M105.2 82.6h0M105.4 82.9h0M105.7 82.9h0M106.0 83.1h0M106.3 82.7h0M106.5 82.3h0M106.8 83.2h0M107.1 83.2h0M107.3 82.8h0M107.6 82.8h0M107.9 82.8h0M108.1 83.1h0M108.4 82.6h0M108.7 83.9h0M108.9 84.7h0M109.2 83.9h0M109.5 84.5h0M109.8 84.4h0M110.0 84.5h0M110.3 84.5h0M110.6 83.8h0M110.8 84.4h0M111.1 83.7h0M111.4 83.8h0M111.6 85.4h0M111.9 84.9h0M112.2 85.5h0M112.4 85.7h0M112.7 85.4h0M113.0 85.3h0M113.3 85.2h0M113.5 85.5h0M113.8 84.9h0M114.1 85.1h0M114.3 85.6h0M114.6 85.0h0M114.9 86.5h0M115.1 87.0h0M115.4 86.3h0M115.7 86.8h0M115.9 87.2h0M116.2 86.6h0M116.5 86.6h0M116.8 87.1h0M117.0 86.6h0M117.3 86.9h0M117.6 86.9h0M117.8 86.5h0M118.1 88.0h0M118.4 88.2h0M118.6 87.8h0M118.9 88.0h0M119.2 88.6h0M119.4 88.4h0M119.7 88.0h0M120.0 88.1h0M120.2 88.3h0M120.5 88.3h0M120.8 88.3h0M121.1 88.5h0M121.3 89.9h0M121.6 89.6h0M121.9 89.6h0M122.1 89.2h0M122.4 89.4h0M122.7 89.8h0M122.9 89.1h0M123.2 89.4h0M123.5 89.2h0M123.7 89.6h0M124.0 89.1h0M124.3 89.3h0M124.6 90.7h0M124.8 91.2h0M125.1 90.6h0M125.4 91.0h0M125.6 91.0h0M125.9 91.3h0M126.2 91.0h0M126.4 91.3h0M126.7 90.7h0M127.0 91.2h0M127.2 91.4h0M127.5 90.8h0M127.8 90.8h0M128.1 91.3h0M128.3 92.4h0M128.6 92.7h0M128.9 92.3h0M129.1 92.5h0M129.4 92.7h0M129.7 92.5h0M129.9 92.4h0M130.2 92.4h0M130.5 92.4h0M130.7 92.5h0M131.0 92.8h0M131.3 92.8h0M131.6 92.8h0M131.8 92.7h0M132.1 93.0h0M132.4 94.3h0M132.6 94.4h0M132.9 94.1h0M133.2 93.8h0M133.4 93.8h0M133.7 93.9h0M134.0 94.1h0M134.2 94.4h0M134.5 94.2h0M134.8 94.3h0M135.1 94.1h0M135.3 94.3h0M135.6 94.0h0M135.9 94.3h0M136.1 95.1h0M136.4 95.5h0M136.7 95.2h0M136.9 95.4h0M137.2 95.3h0M137.5 95.3h0M137.7 95.5h0M138.0 95.4h0M138.3 95.5h0M138.6 95.2h0M138.8 95.4h0M139.1 95.2h0M139.4 95.2h0M139.6 95.2h0M139.9 95.4h0M140.2 96.3h0M140.4 96.4h0M140.7 96.3h0M141.0 96.6h0M141.2 96.4h0M141.5 96.3h0M141.8 96.7h0M142.1 96.1h0M142.3 96.5h0M142.6 96.5h0M142.9 96.7h0M143.1 96.3h0M143.4 96.5h0M143.7 96.4h0M143.9 96.6h0M144.2 97.3h0M144.5 96.7h0M144.7 97.2h0M145.0 96.7h0M145.3 97.0h0M145.6 96.8h0M145.8 96.9h0M146.1 96.8h0M146.4 96.9h0M146.6 96.7h0M146.9 96.3h0M147.2 96.5h0M147.4 96.1h0M147.7 96.7h0M148.0 96.3h0M148.2 97.9h0M148.5 97.6h0M148.8 97.6h0M149.1 98.0h0M149.3 97.7h0M149.6 97.9h0M149.9 97.8h0M150.1 97.8h0M150.4 97.7h0M150.7 97.6h0M150.9 97.8h0M151.2 98.0h0M151.5 97.9h0M151.7 98.0h0M152.0 97.8h0M152.3 99.0h0M152.6 98.9h0M152.8 98.9h0M153.1 99.3h0M153.4 99.1h0M153.6 99.3h0M153.9 99.7h0M154.2 99.7h0M154.4 99.2h0M154.7 99.2h0M155.0 99.4h0M155.2 99.7h0M155.5 99.3h0M155.8 99.5h0M156.1 99.6h0M156.3 99.6h0M156.6 99.6h0M156.9 100.4h0M157.1 100.4h0M157.4 100.4h0M157.7 100.4h0M157.9 100.4h0M158.2 100.5h0M158.5 100.4h0M158.7 100.4h0M159.0 100.4h0M159.3 100.7h0M159.6 100.3h0M159.8 100.2h0M160.1 100.2h0M160.4 100.2h0M160.6 100.3h0M160.9 100.3h0M161.2 100.0h0M161.4 100.1h0M161.7 99.9h0M162.0 99.8h0M162.2 100.3h0M162.5 99.9h0M162.8 100.0h0M163.1 100.0h0M163.3 100.3h0M163.6 100.0h0M163.9 99.9h0M164.1 100.2h0M164.4 100.4h0M164.7 100.1h0M164.9 100.0h0M165.2 100.3h0M165.5 100.1h0M165.7 101.4h0M166.0 101.5h0M166.3 101.4h0M166.6 101.1h0M166.8 101.4h0M167.1 101.5h0M167.4 101.3h0M167.6 101.1h0M167.9 101.3h0M168.2 101.1h0M168.4 101.7h0M168.7 101.2h0M169.0 101.6h0M169.2 101.7h0M169.5 101.7h0M169.8 101.7h0M170.1 101.5h0M170.3 101.6h0M170.6 101.7h0M170.9 101.5h0M171.1 101.5h0M171.4 101.8h0M171.7 101.8h0M171.9 101.8h0M172.2 104.0h0M172.5 103.9h0M172.7 103.7h0M173.0 103.9h0M173.3 103.9h0M173.6 103.8h0M173.8 103.7h0M174.1 104.0h0M174.4 103.8h0M174.6 103.6h0M174.9 103.4h0M175.2 103.7h0M175.4 103.7h0M175.7 103.4h0M176.0 103.2h0M176.2 103.5h0M176.5 104.8h0M176.8 104.7h0M177.1 104.5h0M177.3 104.5h0M177.6 104.7h0M177.9 104.4h0M178.1 104.3h0M178.4 104.2h0M178.7 104.2h0M178.9 104.5h0M179.2 104.3h0M179.5 104.6h0M179.7 104.2h0M180.0 104.2h0M180.3 104.2h0M180.6 104.6h0M180.8 105.8h0M181.1 105.9h0M181.4 106.1h0M181.6 106.0h0M181.9 105.8h0M182.2 105.9h0M182.4 105.8h0M182.7 105.8h0M183.0 105.7h0M183.2 107.3h0M183.5 107.5h0M183.8 107.6h0M184.1 107.6h0M184.3 107.4h0M184.6 107.7h0M184.9 107.3h0M185.1 107.7h0M185.4 107.5h0M185.7 107.6h0M185.9 108.7h0M186.2 108.4h0M186.5 108.7h0M186.7 108.7h0M187.0 108.8h0M187.3 108.6h0M187.6 108.7h0M187.8 108.5h0M188.1 108.4h0M188.4 109.3h0M188.6 109.3h0M188.9 109.3h0M189.2 109.0h0M189.4 109.4h0M189.7 108.9h0M190.0 109.0h0M190.2 108.8h0M190.5 109.2h0M190.8 109.1h0M191.0 110.3h0M191.3 110.7h0M191.6 110.7h0M191.9 110.7h0M192.1 110.7h0M192.4 110.6h0M192.7 110.8h0M192.9 110.9h0M193.2 111.2h0M193.5 111.2h0M193.7 112.2h0M194.0 112.1h0M194.3 112.2h0M194.5 112.4h0M194.8 112.4h0M195.1 112.6h0M195.4 112.5h0M195.6 112.5h0M195.9 113.0h0M196.2 112.8h0M196.4 113.9h0M196.7 114.0h0M197.0 114.0h0M197.2 114.0h0M197.5 114.0h0M197.8 113.8h0M198.0 113.6h0M198.3 113.7h0M198.6 113.7h0M198.9 113.9h0M199.1 113.7h0M199.4 115.2h0M199.7 114.9h0M199.9 114.9h0M200.2 115.2h0M200.5 115.0h0M200.7 115.2h0M201.0 114.9h0M201.3 115.3h0M201.5 115.4h0M201.8 115.3h0M202.1 115.4h0M202.4 115.9h0M202.6 115.9h0M202.9 116.2h0M203.2 116.2h0M203.4 115.9h0M203.7 115.9h0M204.0 116.2h0M204.2 115.9h0M204.5 116.1h0M204.8 116.0h0M205.0 115.9h0M205.3 115.9h0M205.6 115.6h0M205.9 115.9h0M206.1 115.7h0M206.4 115.5h0M206.7 115.5h0M206.9 116.6h0M207.2 116.7h0M207.5 116.4h0M207.7 116.3h0M208.0 116.6h0M208.3 116.4h0M208.5 116.4h0M208.8 116.4h0M209.1 116.2h0M209.4 116.2h0M209.6 116.1h0M209.9 116.2h0M210.2 116.3h0M210.4 116.1h0M210.7 116.1h0M211.0 116.2h0M211.2 116.4h0M211.5 116.1h0M211.8 116.4h0M212.0 116.1h0M212.3 116.5h0M212.6 116.5h0M212.9 117.0h0M213.1 116.9h0M213.4 117.0h0M213.7 117.1h0M213.9 116.8h0M214.2 117.0h0M214.5 117.2h0M214.7 117.2h0M215.0 117.1h0M215.3 117.1h0M215.5 118.4h0M215.8 118.4h0M216.1 118.5h0M216.4 118.5h0M216.6 118.6h0M216.9 118.8h0M217.2 119.0h0M217.4 118.7h0M217.7 120.2h0M218.0 120.1h0M218.2 120.4h0M218.5 120.4h0M218.8 120.4h0M219.0 120.4h0M219.3 120.3h0M219.6 120.3h0M219.9 120.0h0M220.1 121.7h0M220.4 121.9h0M220.7 121.8h0M220.9 121.8h0M221.2 121.6h0M221.5 121.8h0M221.7 121.8h0M222.0 121.6h0M222.3 121.6h0M222.5 121.8h0M222.8 121.6h0M223.1 121.7h0M223.4 121.7h0M223.6 122.3h0M223.9 122.3h0M224.2 122.1h0M224.4 122.2h0M224.7 122.4h0M225.0 122.1h0M225.2 121.9h0M225.5 122.3h0M225.8 122.2h0M226.0 122.0h0M226.3 121.8h0M226.6 121.8h0M226.9 122.0h0M227.1 123.4h0M227.4 123.6h0M227.7 123.6h0M227.9 123.2h0M228.2 123.5h0M228.5 123.5h0M228.7 123.4h0M229.0 123.4h0M229.3 123.4h0M229.5 123.4h0M229.8 123.5h0M230.1 123.4h0M230.4 124.7h0M230.6 124.8h0M230.9 124.8h0M231.2 125.0h0M231.4 125.0h0M231.7 125.5h0M232.0 125.1h0M232.2 125.5h0M232.5 125.6h0M232.8 125.4h0M233.0 125.5h0M233.3 125.5h0M233.6 125.5h0M233.9 127.3h0M234.1 127.1h0M234.4 127.0h0M234.7 126.9h0M234.9 126.5h0M235.2 126.7h0M235.5 127.7h0M235.7 127.5h0M236.0 127.3h0M236.3 127.2h0M236.5 127.1h0M236.8 127.1h0M237.1 129.1h0M237.4 128.7h0M237.6 128.9h0M237.9 128.7h0M238.2 129.1h0M238.4 128.8h0M238.7 130.0h0M239.0 129.7h0M239.2 130.1h0M239.5 130.1h0M239.8 130.1h0M240.0 129.8h0M240.3 130.7h0M240.6 130.9h0M240.9 131.0h0M241.1 130.9h0M241.4 131.1h0M241.7 131.1h0M241.9 132.5h0M242.2 132.8h0M242.5 132.8h0M242.7 132.5h0M243.0 132.7h0M243.3 132.8h0M243.5 134.2h0M243.8 134.2h0M244.1 133.9h0M244.4 134.0h0M244.6 134.3h0M244.9 134.0h0M245.2 134.2h0M245.4 134.3h0M245.7 134.2h0M246.0 135.5h0M246.2 135.6h0M246.5 135.6h0M246.8 135.5h0M247.0 135.4h0M247.3 135.4h0M247.6 135.4h0M247.9 135.1h0M248.1 135.1h0M248.4 135.5h0M248.7 136.5h0M248.9 136.8h0M249.2 136.7h0M249.5 136.5h0M249.7 136.6h0M250.0 136.5h0M250.3 136.3h0M250.5 136.3h0M250.8 136.3h0M251.1 137.9h0M251.4 137.7h0M251.6 138.1h0M251.9 138.0h0M252.2 137.8h0M252.4 137.9h0M252.7 138.1h0M253.0 137.9h0M253.2 138.0h0M253.5 139.4h0M253.8 139.8h0M254.0 139.8h0M254.3 139.6h0M254.6 140.0h0M254.8 139.9h0M255.1 140.0h0M255.4 140.1h0M255.7 141.5h0M255.9 141.5h0M256.2 141.3h0M256.5 141.3h0M256.7 141.3h0M257.0 141.2h0M257.3 141.6h0M257.5 141.6h0M257.8 141.5h0M258.1 142.6h0M258.3 142.8h0M258.6 142.7h0M258.9 142.6h0M259.2 142.4h0M259.4 142.6h0M259.7 142.5h0M260.0 142.2h0M260.2 143.2h0M260.5 143.1h0M260.8 143.1h0M261.0 143.3h0M261.3 142.9h0M261.6 143.2h0M261.8 143.2h0M262.1 143.1h0M262.4 143.1h0M262.7 144.1h0M262.9 144.0h0M263.2 144.2h0M263.5 144.2h0M263.7 143.9h0M264.0 144.1h0M264.3 144.0h0M264.5 144.2h0M264.8 144.0h0M265.1 144.2h0M265.3 145.5h0M265.6 145.6h0M265.9 145.5h0M266.2 145.4h0M266.4 145.5h0M266.7 145.6h0M267.0 145.5h0M267.2 145.8h0M267.5 145.5h0M267.8 145.7h0M268.0 145.6h0M268.3 147.3h0M268.6 147.4h0M268.8 147.5h0M269.1 147.3h0M269.4 147.5h0M269.7 147.3h0M269.9 147.4h0M270.2 147.2h0M270.5 147.5h0M270.7 147.5h0M271.0 148.3h0M271.3 148.3h0M271.5 148.6h0M271.8 148.5h0M272.1 148.3h0M272.3 148.5h0M272.6 148.3h0M272.9 148.1h0M273.2 148.0h0M273.4 147.9h0M273.7 148.3h0M274.0 150.1h0M274.2 150.0h0M274.5 149.9h0M274.8 149.9h0M275.0 151.1h0M275.3 151.0h0M275.6 151.0h0M275.8 151.0h0M276.1 150.7h0M276.4 152.2h0M276.7 151.9h0M276.9 152.0h0M277.2 151.5h0M277.5 152.5h0M277.7 152.5h0M278.0 152.4h0M278.3 152.2h0M278.5 152.4h0M278.8 153.7h0M279.1 153.8h0M279.3 153.7h0M279.6 153.8h0M279.9 155.3h0M280.2 155.4h0M280.4 155.6h0M280.7 155.5h0M281.0 155.5h0M281.2 156.7h0M281.5 156.9h0M281.8 157.1h0M282.0 157.1h0M282.3 157.1h0M282.6 158.6h0M282.8 158.7h0M283.1 158.7h0M283.4 158.8h0M283.7 159.0h0M283.9 158.9h0M284.2 160.0h0M284.5 159.9h0M284.7 159.9h0M285.0 160.2h0M285.3 159.9h0M285.5 160.2h0M285.8 161.8h0M286.1 161.4h0M286.3 161.6h0M286.6 161.4h0M286.9 161.5h0M287.2 161.5h0M287.4 162.3h0M287.7 162.3h0M288.0 162.4h0M288.2 162.4h0M288.5 162.8h0M288.8 162.5h0M289.0 164.1h0M289.3 164.0h0M289.6 163.8h0M289.8 164.1h0M290.1 163.9h0M290.4 163.8h0M290.7 165.4h0M290.9 165.0h0M291.2 164.8h0M291.5 164.9h0M291.7 165.1h0M292.0 164.7h0M292.3 166.2h0M292.5 166.4h0M292.8 166.3h0M293.1 166.3h0M293.3 166.6h0M293.6 166.7h0M293.9 168.4h0M294.2 168.4h0M294.4 169.8h0M294.7 169.7h0M295.0 169.6h0M295.2 170.6h0M295.5 170.5h0M295.8 171.7h0M296.0 171.8h0M296.3 171.6h0M296.6 173.0h0M296.8 173.0h0M297.1 173.7h0M297.4 173.7h0M297.7 173.7h0M297.9 174.7h0M298.2 174.9h0M298.5 175.7h0M298.7 175.4h0M299.0 175.7h0M299.3 176.2h0M299.5 176.1h0M299.8 177.6h0M300.1 177.5h0M300.3 177.2h0M300.6 178.6h0M300.9 179.0h0M301.2 179.0h0M301.4 180.0h0M301.7 180.1h0M302.0 180.1h0M302.2 181.1h0M302.5 181.3h0M302.8 181.1h0M303.0 182.9h0M303.3 183.3h0M303.6 183.3h0M303.8 184.4h0M304.1 184.7h0M304.4 184.7h0M304.7 186.6h0M304.9 186.6h0M305.2 186.7h0M305.5 188.2h0M305.7 188.2h0M306.0 188.5h0M306.3 189.1h0M306.5 189.3h0M306.8 189.5h0M307.1 190.0h0M307.3 189.9h0M307.6 191.4h0M307.9 192.7h0M308.2 192.5h0M308.4 193.7h0M308.7 194.2h0M309.0 194.3h0M309.2 195.3h0M309.5 196.6h0M309.8 196.3h0M310.0 196.8h0M310.3 198.3h0M310.6 198.2h0M310.8 199.6h0M311.1 200.9h0M311.4 200.8h0M311.7 202.0h0M311.9 203.1h0M312.2 203.1h0M312.5 205.5h0M312.7 207.5h0M313.0 208.0h0M313.3 210.2h0M313.5 212.4h0M313.8 212.6h0M313.9 214.5h0M314.1 214.3h0M314.2 214.6h0M314.3 217.0h0M314.5 217.1h0M314.6 217.0h0M314.7 219.5h0M314.9 219.4h0M315.0 219.4h0M315.2 222.6h0M315.3 222.5h0M315.4 222.7h0M315.6 225.5h0M315.7 225.7h0M315.8 225.7h0M316.0 229.1h0M316.1 229.0h0M316.2 228.9h0M316.4 231.0h0M316.5 231.0h0M316.6 230.8h0M316.8 232.5h0M316.9 232.3h0M317.0 232.4h0M317.2 234.4h0M317.3 234.2h0M317.4 234.6h0M317.6 236.8h0M317.7 236.9h0M317.8 236.9h0M318.0 239.9h0M318.1 240.1h0M318.2 240.0h0M318.4 243.4h0M318.5 243.3h0M318.7 243.2h0M318.8 245.9h0M318.9 245.9h0M319.1 245.7h0M319.2 248.8h0M319.3 248.9h0M319.5 249.1h0M319.6 252.7h0M319.7 252.8h0M319.9 252.5h0M320.0 255.5h0M320.1 255.7h0M320.3 255.4h0M18.9 36.7h0M18.9 42.1h0M19.3 51.9h0M19.5 77.9h0M19.5 93.3h0M19.4 33.0h0M19.3 29.0h0M320.4 257.0h0M320.7 260.0h0M320.9 263.7h0M321.0 267.5h0M321.1 271.6h0M321.3 277.9h0M321.4 284.6h0M321.5 292.4h0M322.0 302.5h0M322.2 316.1h0M322.3 341.3h0"/>
</g>
<g stroke="#666" stroke-width="1" stroke-opacity="0.45" fill="none">
<path d="M19.5 3V382M7 117.5H621M19.50 117.5v-5.4M46.22 117.5v-3.1M73.14 117.5v-3.1M100.06 117.5v-3.1M126.98 117.5v-3.1M153.90 117.5v-5.4M180.82 117.5v-3.1M207.74 117.5v-3.1M234.66 117.5v-3.1M261.58 117.5v-3.1M288.50 117.5v-5.4M315.42 117.5v-3.1M342.34 117.5v-3.1M369.26 117.5v-3.1M396.18 117.5v-3.1M423.10 117.5v-5.4M450.02 117.5v-3.1M476.94 117.5v-3.1M503.86 117.5v-3.1M530.78 117.5v-3.1M557.70 117.5v-5.4M584.62 117.5v-3.1M611.54 117.5v-3.1M19.5 378.40h3.1M19.5 362.10h5.4M19.5 345.80h3.1M19.5 329.50h3.1M19.5 313.20h3.1M19.5 296.90h3.1M19.5 280.60h5.4M19.5 264.30h3.1M19.5 248.00h3.1M19.5 231.70h3.1M19.5 215.40h3.1M19.5 199.10h5.4M19.5 182.80h3.1M19.5 166.50h3.1M19.5 150.20h3.1M19.5 133.90h3.1M19.5 117.50h5.4M19.5 101.30h3.1M19.5 85.00h3.1M19.5 68.70h3.1M19.5 52.40h3.1M19.5 36.10h5.4M19.5 19.80h3.1M19.5 3.50h3.1"/>
</g>
<g stroke="#666" stroke-width="1.1">
<path d="M0.6 199.5h4.7"/>
<path d="M0.6 281.0h4.7"/>
<path d="M0.6 362.5h4.7"/>
</g>
<rect x="479.8" y="11.45" width="78.3" height="63.9" fill="#fff" stroke="#000" stroke-width="1.5"/>
<circle cx="495.3" cy="20.7" r="3.45" fill="#eb191c"/>
<circle cx="495.3" cy="41.6" r="3.45" fill="#00ff00"/>
<circle cx="495.3" cy="61.4" r="3.45" fill="#5e81b5"/>
</svg>
<div class="t xl" style="left:124.0px"><svg class="one" width="7.5" height="10" viewBox="0 0 7.5 10"><path fill="#666" d="M3.5 0.15H4.75V9.85H3.45V2.3Q2.6 3.1 1.2 3.55V2.45Q2.9 1.7 3.5 0.15Z"/></svg>000</div>
<div class="t xl" style="left:258.6px">2000</div>
<div class="t xl" style="left:393.2px">3000</div>
<div class="t xl" style="left:527.8px">4000</div>
<div class="t yl" style="top:29.2px"><svg class="one" width="7.5" height="10" viewBox="0 0 7.5 10"><path fill="#666" d="M3.5 0.15H4.75V9.85H3.45V2.3Q2.6 3.1 1.2 3.55V2.45Q2.9 1.7 3.5 0.15Z"/></svg></div>
<div class="t yl" style="top:192.2px"><svg class="one" width="7.5" height="10" viewBox="0 0 7.5 10"><path fill="#666" d="M3.5 0.15H4.75V9.85H3.45V2.3Q2.6 3.1 1.2 3.55V2.45Q2.9 1.7 3.5 0.15Z"/></svg></div>
<div class="t yl" style="top:273.8px">2</div>
<div class="t yl" style="top:355.2px">3</div>
<div class="t s" style="left:38px;top:0.5px;font-size:17px;">log<span style="font-size:10.5px;position:relative;top:4.9px;letter-spacing:-0.3px;margin-left:-0.8px">10</span><span style="display:inline-block;transform:scaleY(1.07);transform-origin:50% 60%">(</span><i style="margin-left:1.3px">d</i><i style="font-size:10.5px;position:relative;top:4.9px;margin-left:-0.6px">k</i><span style="display:inline-block;transform:scaleY(1.07);transform-origin:50% 60%">)</span></div>
<div class="t s" style="left:598.9px;top:125px;font-size:17px;"><i>k</i></div>
<div class="t s" style="left:507.8px;top:14px;font-size:16.5px;">4373</div>
<div class="t s" style="left:507.8px;top:34px;font-size:16.5px;">3498</div>
<div class="t s" style="left:507.8px;top:54px;font-size:16.5px;">2249</div>
</body></html>
